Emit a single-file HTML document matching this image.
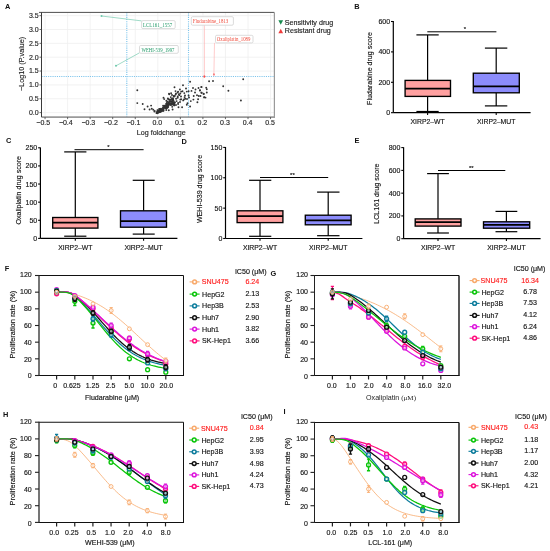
<!DOCTYPE html>
<html><head><meta charset="utf-8"><style>
html,body{margin:0;padding:0;background:#fff;}
svg{display:block;will-change:transform;}
text{font-family:"Liberation Sans", sans-serif;}
</style></head><body>
<svg width="550" height="551" viewBox="0 0 550 551">
<rect width="550" height="551" fill="#fff"/>
<line x1="45.05" y1="12.4" x2="45.05" y2="117.1" stroke="#efefef" stroke-width="0.8" />
<line x1="67.6" y1="12.4" x2="67.6" y2="117.1" stroke="#efefef" stroke-width="0.8" />
<line x1="90.15" y1="12.4" x2="90.15" y2="117.1" stroke="#efefef" stroke-width="0.8" />
<line x1="112.7" y1="12.4" x2="112.7" y2="117.1" stroke="#efefef" stroke-width="0.8" />
<line x1="135.25" y1="12.4" x2="135.25" y2="117.1" stroke="#efefef" stroke-width="0.8" />
<line x1="157.8" y1="12.4" x2="157.8" y2="117.1" stroke="#efefef" stroke-width="0.8" />
<line x1="180.35" y1="12.4" x2="180.35" y2="117.1" stroke="#efefef" stroke-width="0.8" />
<line x1="202.9" y1="12.4" x2="202.9" y2="117.1" stroke="#efefef" stroke-width="0.8" />
<line x1="225.45" y1="12.4" x2="225.45" y2="117.1" stroke="#efefef" stroke-width="0.8" />
<line x1="248" y1="12.4" x2="248" y2="117.1" stroke="#efefef" stroke-width="0.8" />
<line x1="270.55" y1="12.4" x2="270.55" y2="117.1" stroke="#efefef" stroke-width="0.8" />
<line x1="41.5" y1="112.6" x2="274.4" y2="112.6" stroke="#efefef" stroke-width="0.8" />
<line x1="41.5" y1="98.75" x2="274.4" y2="98.75" stroke="#efefef" stroke-width="0.8" />
<line x1="41.5" y1="84.9" x2="274.4" y2="84.9" stroke="#efefef" stroke-width="0.8" />
<line x1="41.5" y1="71.05" x2="274.4" y2="71.05" stroke="#efefef" stroke-width="0.8" />
<line x1="41.5" y1="57.2" x2="274.4" y2="57.2" stroke="#efefef" stroke-width="0.8" />
<line x1="41.5" y1="43.35" x2="274.4" y2="43.35" stroke="#efefef" stroke-width="0.8" />
<line x1="41.5" y1="29.5" x2="274.4" y2="29.5" stroke="#efefef" stroke-width="0.8" />
<line x1="41.5" y1="15.65" x2="274.4" y2="15.65" stroke="#efefef" stroke-width="0.8" />
<line x1="126.8" y1="12.4" x2="126.8" y2="117.1" stroke="#7cc4ec" stroke-width="1.1" stroke-dasharray="1.1,1.1"/>
<line x1="188.5" y1="12.4" x2="188.5" y2="117.1" stroke="#7cc4ec" stroke-width="1.1" stroke-dasharray="1.1,1.1"/>
<line x1="41.5" y1="76.5" x2="274.4" y2="76.5" stroke="#7cc4ec" stroke-width="1.1" stroke-dasharray="1.1,1.1"/>
<circle cx="137.3" cy="90.3" r="0.95" fill="#333"/>
<circle cx="137.3" cy="103.1" r="0.95" fill="#333"/>
<circle cx="142.7" cy="104" r="0.95" fill="#333"/>
<circle cx="144.5" cy="109.2" r="0.95" fill="#333"/>
<circle cx="147.6" cy="106.5" r="0.95" fill="#333"/>
<circle cx="151.1" cy="105.6" r="0.95" fill="#333"/>
<circle cx="149.6" cy="109.5" r="0.95" fill="#333"/>
<circle cx="151.8" cy="108.7" r="0.95" fill="#333"/>
<circle cx="153.3" cy="109.8" r="0.95" fill="#333"/>
<circle cx="154.7" cy="110.9" r="0.95" fill="#333"/>
<circle cx="154.4" cy="111.6" r="0.95" fill="#333"/>
<circle cx="163.5" cy="97.8" r="0.95" fill="#333"/>
<circle cx="164.2" cy="99.1" r="0.95" fill="#333"/>
<circle cx="168.2" cy="99.1" r="0.95" fill="#333"/>
<circle cx="169.3" cy="94.2" r="0.95" fill="#333"/>
<circle cx="190.1" cy="81.7" r="0.95" fill="#333"/>
<circle cx="183" cy="85.2" r="0.95" fill="#333"/>
<circle cx="174.5" cy="87.3" r="0.95" fill="#333"/>
<circle cx="179.9" cy="89.5" r="0.95" fill="#333"/>
<circle cx="175.5" cy="91.1" r="0.95" fill="#333"/>
<circle cx="178.1" cy="91.6" r="0.95" fill="#333"/>
<circle cx="180.3" cy="93.5" r="0.95" fill="#333"/>
<circle cx="182.5" cy="91.3" r="0.95" fill="#333"/>
<circle cx="184.3" cy="93.1" r="0.95" fill="#333"/>
<circle cx="186.8" cy="91.6" r="0.95" fill="#333"/>
<circle cx="188.6" cy="91.3" r="0.95" fill="#333"/>
<circle cx="188.6" cy="95.5" r="0.95" fill="#333"/>
<circle cx="193" cy="88" r="0.95" fill="#333"/>
<circle cx="195.5" cy="89.5" r="0.95" fill="#333"/>
<circle cx="198.5" cy="88" r="0.95" fill="#333"/>
<circle cx="201.4" cy="86.9" r="0.95" fill="#333"/>
<circle cx="199.9" cy="90.5" r="0.95" fill="#333"/>
<circle cx="191.5" cy="90.9" r="0.95" fill="#333"/>
<circle cx="193.7" cy="96" r="0.95" fill="#333"/>
<circle cx="197" cy="95.3" r="0.95" fill="#333"/>
<circle cx="198.8" cy="96" r="0.95" fill="#333"/>
<circle cx="198.1" cy="99.3" r="0.95" fill="#333"/>
<circle cx="201.4" cy="92.7" r="0.95" fill="#333"/>
<circle cx="203.5" cy="93.8" r="0.95" fill="#333"/>
<circle cx="204.3" cy="97.1" r="0.95" fill="#333"/>
<circle cx="197.4" cy="102.2" r="0.95" fill="#333"/>
<circle cx="193.4" cy="99.6" r="0.95" fill="#333"/>
<circle cx="190.8" cy="101.1" r="0.95" fill="#333"/>
<circle cx="187.5" cy="103.3" r="0.95" fill="#333"/>
<circle cx="186.8" cy="104.7" r="0.95" fill="#333"/>
<circle cx="190.1" cy="106.5" r="0.95" fill="#333"/>
<circle cx="182.1" cy="107.3" r="0.95" fill="#333"/>
<circle cx="184.6" cy="97.1" r="0.95" fill="#333"/>
<circle cx="183.2" cy="100.4" r="0.95" fill="#333"/>
<circle cx="180.3" cy="99.6" r="0.95" fill="#333"/>
<circle cx="177.7" cy="97.8" r="0.95" fill="#333"/>
<circle cx="174.8" cy="96" r="0.95" fill="#333"/>
<circle cx="169" cy="93.8" r="0.95" fill="#333"/>
<circle cx="170.8" cy="97.1" r="0.95" fill="#333"/>
<circle cx="167.9" cy="98.5" r="0.95" fill="#333"/>
<circle cx="176.6" cy="101.1" r="0.95" fill="#333"/>
<circle cx="178.1" cy="104" r="0.95" fill="#333"/>
<circle cx="178.5" cy="107.3" r="0.95" fill="#333"/>
<circle cx="209.1" cy="81.3" r="0.95" fill="#333"/>
<circle cx="213" cy="81" r="0.95" fill="#333"/>
<circle cx="223.2" cy="86.2" r="0.95" fill="#333"/>
<circle cx="228.4" cy="90.8" r="0.95" fill="#333"/>
<circle cx="243.2" cy="79.2" r="0.95" fill="#333"/>
<circle cx="240.9" cy="100.5" r="0.95" fill="#333"/>
<circle cx="201.4" cy="87.1" r="0.95" fill="#333"/>
<circle cx="206.2" cy="87.8" r="0.95" fill="#333"/>
<circle cx="206.8" cy="89.2" r="0.95" fill="#333"/>
<circle cx="200" cy="90.3" r="0.95" fill="#333"/>
<circle cx="201.6" cy="92.8" r="0.95" fill="#333"/>
<circle cx="203.8" cy="94" r="0.95" fill="#333"/>
<circle cx="206.8" cy="92.5" r="0.95" fill="#333"/>
<circle cx="200.5" cy="96" r="0.95" fill="#333"/>
<circle cx="204.1" cy="97.4" r="0.95" fill="#333"/>
<circle cx="205.5" cy="97.6" r="0.95" fill="#333"/>
<circle cx="186" cy="88.5" r="0.95" fill="#333"/>
<circle cx="172" cy="95" r="0.95" fill="#333"/>
<circle cx="181" cy="96.5" r="0.95" fill="#333"/>
<circle cx="185" cy="95.5" r="0.95" fill="#333"/>
<circle cx="176" cy="93.5" r="0.95" fill="#333"/>
<circle cx="172.5" cy="99.5" r="0.95" fill="#333"/>
<circle cx="174" cy="102.5" r="0.95" fill="#333"/>
<circle cx="176" cy="105" r="0.95" fill="#333"/>
<circle cx="180" cy="102" r="0.95" fill="#333"/>
<circle cx="171" cy="104" r="0.95" fill="#333"/>
<circle cx="187" cy="99" r="0.95" fill="#333"/>
<circle cx="189" cy="97.5" r="0.95" fill="#333"/>
<circle cx="195" cy="92.5" r="0.95" fill="#333"/>
<circle cx="163.51" cy="109.89" r="0.95" fill="#333"/>
<circle cx="156.71" cy="112.7" r="0.95" fill="#333"/>
<circle cx="157.22" cy="112.5" r="0.95" fill="#333"/>
<circle cx="164.42" cy="107.86" r="0.95" fill="#333"/>
<circle cx="163.56" cy="107.31" r="0.95" fill="#333"/>
<circle cx="157.47" cy="110.29" r="0.95" fill="#333"/>
<circle cx="166.25" cy="110.04" r="0.95" fill="#333"/>
<circle cx="157.65" cy="111.76" r="0.95" fill="#333"/>
<circle cx="159.68" cy="111.36" r="0.95" fill="#333"/>
<circle cx="173.74" cy="104.8" r="0.95" fill="#333"/>
<circle cx="168.05" cy="107.28" r="0.95" fill="#333"/>
<circle cx="158.28" cy="111.96" r="0.95" fill="#333"/>
<circle cx="168.38" cy="105.79" r="0.95" fill="#333"/>
<circle cx="166.27" cy="106.82" r="0.95" fill="#333"/>
<circle cx="169.76" cy="101.68" r="0.95" fill="#333"/>
<circle cx="164.25" cy="106.91" r="0.95" fill="#333"/>
<circle cx="172.59" cy="109.51" r="0.95" fill="#333"/>
<circle cx="157.28" cy="113.2" r="0.95" fill="#333"/>
<circle cx="158.65" cy="111.54" r="0.95" fill="#333"/>
<circle cx="166.98" cy="102.39" r="0.95" fill="#333"/>
<circle cx="174.29" cy="105.41" r="0.95" fill="#333"/>
<circle cx="165.43" cy="105.58" r="0.95" fill="#333"/>
<circle cx="172.41" cy="100.76" r="0.95" fill="#333"/>
<circle cx="170.48" cy="104.83" r="0.95" fill="#333"/>
<circle cx="169.75" cy="103.64" r="0.95" fill="#333"/>
<circle cx="160.67" cy="111.44" r="0.95" fill="#333"/>
<circle cx="156.5" cy="113.1" r="0.95" fill="#333"/>
<circle cx="160.2" cy="110.99" r="0.95" fill="#333"/>
<circle cx="159" cy="112.18" r="0.95" fill="#333"/>
<circle cx="174.35" cy="102.41" r="0.95" fill="#333"/>
<circle cx="166.18" cy="103.6" r="0.95" fill="#333"/>
<circle cx="173.82" cy="104.37" r="0.95" fill="#333"/>
<circle cx="163.11" cy="105.79" r="0.95" fill="#333"/>
<circle cx="159.52" cy="111.55" r="0.95" fill="#333"/>
<circle cx="159.03" cy="111.41" r="0.95" fill="#333"/>
<circle cx="161.82" cy="109.36" r="0.95" fill="#333"/>
<circle cx="159.7" cy="109.18" r="0.95" fill="#333"/>
<circle cx="167.35" cy="105.14" r="0.95" fill="#333"/>
<circle cx="171.47" cy="104.52" r="0.95" fill="#333"/>
<circle cx="170.17" cy="99.76" r="0.95" fill="#333"/>
<circle cx="162.96" cy="109.01" r="0.95" fill="#333"/>
<circle cx="168.27" cy="105.22" r="0.95" fill="#333"/>
<circle cx="160.73" cy="110.95" r="0.95" fill="#333"/>
<circle cx="157.99" cy="111.98" r="0.95" fill="#333"/>
<circle cx="158.05" cy="112.08" r="0.95" fill="#333"/>
<circle cx="171.65" cy="101.29" r="0.95" fill="#333"/>
<circle cx="160.51" cy="111.21" r="0.95" fill="#333"/>
<circle cx="159.2" cy="108.85" r="0.95" fill="#333"/>
<circle cx="164.11" cy="107.82" r="0.95" fill="#333"/>
<circle cx="157.97" cy="112.54" r="0.95" fill="#333"/>
<circle cx="172.09" cy="102.8" r="0.95" fill="#333"/>
<circle cx="173.55" cy="100.86" r="0.95" fill="#333"/>
<circle cx="167.37" cy="105.94" r="0.95" fill="#333"/>
<circle cx="173.82" cy="96.71" r="0.95" fill="#333"/>
<circle cx="160.62" cy="110.73" r="0.95" fill="#333"/>
<circle cx="168.37" cy="103.75" r="0.95" fill="#333"/>
<circle cx="163.52" cy="110.83" r="0.95" fill="#333"/>
<circle cx="173.54" cy="95.84" r="0.95" fill="#333"/>
<circle cx="170.4" cy="101.16" r="0.95" fill="#333"/>
<circle cx="165.52" cy="107.17" r="0.95" fill="#333"/>
<circle cx="157.2" cy="113.03" r="0.95" fill="#333"/>
<circle cx="169.59" cy="103.16" r="0.95" fill="#333"/>
<circle cx="176.11" cy="98.78" r="0.95" fill="#333"/>
<circle cx="163.26" cy="109.46" r="0.95" fill="#333"/>
<circle cx="160.73" cy="111.55" r="0.95" fill="#333"/>
<circle cx="172.27" cy="98.82" r="0.95" fill="#333"/>
<circle cx="167.78" cy="104.18" r="0.95" fill="#333"/>
<circle cx="168.61" cy="102.22" r="0.95" fill="#333"/>
<circle cx="169.6" cy="104.2" r="0.95" fill="#333"/>
<circle cx="172.21" cy="106.84" r="0.95" fill="#333"/>
<circle cx="174.96" cy="102.49" r="0.95" fill="#333"/>
<circle cx="173.07" cy="99.39" r="0.95" fill="#333"/>
<circle cx="160.51" cy="111.82" r="0.95" fill="#333"/>
<circle cx="174.51" cy="105.12" r="0.95" fill="#333"/>
<circle cx="173.04" cy="98.7" r="0.95" fill="#333"/>
<circle cx="166.32" cy="106.49" r="0.95" fill="#333"/>
<circle cx="172.28" cy="98.47" r="0.95" fill="#333"/>
<circle cx="173.42" cy="104.19" r="0.95" fill="#333"/>
<circle cx="172.92" cy="103.97" r="0.95" fill="#333"/>
<circle cx="162.24" cy="110.86" r="0.95" fill="#333"/>
<circle cx="160.42" cy="110.63" r="0.95" fill="#333"/>
<circle cx="174.15" cy="103.82" r="0.95" fill="#333"/>
<circle cx="166.96" cy="104.4" r="0.95" fill="#333"/>
<circle cx="172.32" cy="102.01" r="0.95" fill="#333"/>
<circle cx="166.77" cy="106.17" r="0.95" fill="#333"/>
<circle cx="161.21" cy="109.79" r="0.95" fill="#333"/>
<circle cx="157.81" cy="112.37" r="0.95" fill="#333"/>
<circle cx="166.8" cy="108.27" r="0.95" fill="#333"/>
<circle cx="165.83" cy="105.53" r="0.95" fill="#333"/>
<circle cx="167.15" cy="107.43" r="0.95" fill="#333"/>
<circle cx="169.19" cy="104.04" r="0.95" fill="#333"/>
<circle cx="170.43" cy="101.72" r="0.95" fill="#333"/>
<circle cx="166.1" cy="106.26" r="0.95" fill="#333"/>
<circle cx="168.22" cy="105.87" r="0.95" fill="#333"/>
<circle cx="165.63" cy="105.6" r="0.95" fill="#333"/>
<circle cx="172.98" cy="100.69" r="0.95" fill="#333"/>
<circle cx="167.36" cy="104" r="0.95" fill="#333"/>
<circle cx="159.78" cy="111.43" r="0.95" fill="#333"/>
<circle cx="157.87" cy="112.36" r="0.95" fill="#333"/>
<circle cx="166.37" cy="100.76" r="0.95" fill="#333"/>
<circle cx="158" cy="110.57" r="0.95" fill="#333"/>
<circle cx="159.91" cy="108.98" r="0.95" fill="#333"/>
<circle cx="160.83" cy="109.67" r="0.95" fill="#333"/>
<circle cx="166.64" cy="105.75" r="0.95" fill="#333"/>
<circle cx="158.23" cy="112.31" r="0.95" fill="#333"/>
<circle cx="163.01" cy="109.76" r="0.95" fill="#333"/>
<circle cx="170.97" cy="103.43" r="0.95" fill="#333"/>
<circle cx="164.97" cy="107.33" r="0.95" fill="#333"/>
<circle cx="167.16" cy="105.56" r="0.95" fill="#333"/>
<circle cx="171.1" cy="93.27" r="0.95" fill="#333"/>
<circle cx="158.27" cy="112.02" r="0.95" fill="#333"/>
<circle cx="171.34" cy="104.29" r="0.95" fill="#333"/>
<circle cx="164.4" cy="105.8" r="0.95" fill="#333"/>
<circle cx="163.09" cy="110.75" r="0.95" fill="#333"/>
<circle cx="165.94" cy="105.55" r="0.95" fill="#333"/>
<circle cx="156.77" cy="112.11" r="0.95" fill="#333"/>
<circle cx="158.81" cy="111" r="0.95" fill="#333"/>
<circle cx="174.24" cy="103.76" r="0.95" fill="#333"/>
<circle cx="158.03" cy="111.32" r="0.95" fill="#333"/>
<circle cx="159.47" cy="109.82" r="0.95" fill="#333"/>
<circle cx="162.24" cy="110.19" r="0.95" fill="#333"/>
<circle cx="161.02" cy="110.34" r="0.95" fill="#333"/>
<circle cx="157.92" cy="112.61" r="0.95" fill="#333"/>
<circle cx="161.02" cy="108.71" r="0.95" fill="#333"/>
<circle cx="166.33" cy="107.9" r="0.95" fill="#333"/>
<circle cx="157.04" cy="112.75" r="0.95" fill="#333"/>
<circle cx="168.87" cy="103.87" r="0.95" fill="#333"/>
<circle cx="164.91" cy="106.82" r="0.95" fill="#333"/>
<circle cx="171.16" cy="104.37" r="0.95" fill="#333"/>
<circle cx="172.01" cy="104.63" r="0.95" fill="#333"/>
<circle cx="169.6" cy="103.67" r="0.95" fill="#333"/>
<circle cx="169.37" cy="99.76" r="0.95" fill="#333"/>
<circle cx="163.37" cy="108.73" r="0.95" fill="#333"/>
<circle cx="160.33" cy="111" r="0.95" fill="#333"/>
<circle cx="161.08" cy="110.29" r="0.95" fill="#333"/>
<circle cx="171.35" cy="99.27" r="0.95" fill="#333"/>
<circle cx="161.68" cy="110.54" r="0.95" fill="#333"/>
<circle cx="165.76" cy="108.33" r="0.95" fill="#333"/>
<circle cx="162.97" cy="107.71" r="0.95" fill="#333"/>
<circle cx="168.79" cy="110.18" r="0.95" fill="#333"/>
<circle cx="161.6" cy="109.53" r="0.95" fill="#333"/>
<circle cx="161.9" cy="109.58" r="0.95" fill="#333"/>
<circle cx="159.62" cy="110.84" r="0.95" fill="#333"/>
<circle cx="161.97" cy="109.92" r="0.95" fill="#333"/>
<circle cx="158.15" cy="111.95" r="0.95" fill="#333"/>
<circle cx="158.87" cy="110.62" r="0.95" fill="#333"/>
<circle cx="167.45" cy="101.61" r="0.95" fill="#333"/>
<circle cx="172.97" cy="103.51" r="0.95" fill="#333"/>
<circle cx="178.16" cy="102.83" r="0.95" fill="#333"/>
<circle cx="170.35" cy="104.72" r="0.95" fill="#333"/>
<circle cx="181.22" cy="91.58" r="0.95" fill="#333"/>
<circle cx="185.21" cy="98.68" r="0.95" fill="#333"/>
<circle cx="178.85" cy="94.29" r="0.95" fill="#333"/>
<circle cx="177.7" cy="92.54" r="0.95" fill="#333"/>
<circle cx="179.27" cy="95.14" r="0.95" fill="#333"/>
<circle cx="167.59" cy="105.79" r="0.95" fill="#333"/>
<circle cx="169.28" cy="99.66" r="0.95" fill="#333"/>
<circle cx="175.63" cy="94.49" r="0.95" fill="#333"/>
<circle cx="181.13" cy="99.22" r="0.95" fill="#333"/>
<circle cx="177.75" cy="96.45" r="0.95" fill="#333"/>
<circle cx="183.99" cy="99.38" r="0.95" fill="#333"/>
<circle cx="172.65" cy="102.54" r="0.95" fill="#333"/>
<circle cx="204.4" cy="76.5" r="0.9" fill="#f25050"/>
<circle cx="213.9" cy="74.4" r="0.9" fill="#f58080"/>
<line x1="101.5" y1="16" x2="141.6" y2="20.9" stroke="#6cc8aa" stroke-width="0.65" />
<circle cx="101.5" cy="16" r="1" fill="#6cc8aa"/>
<rect x="141.6" y="20.6" width="33.6" height="8" rx="1.3" fill="#fff" stroke="#cfcfcf" stroke-width="0.75"/>
<text x="0" y="0" font-size="6.2" text-anchor="middle" fill="#229a68" textLength="37.44" lengthAdjust="spacingAndGlyphs" transform="translate(157.6 26.9) scale(0.78 1)" style="font-family:'Liberation Serif', serif">LCL161_1557</text>
<line x1="116" y1="65.8" x2="139.5" y2="52.8" stroke="#6cc8aa" stroke-width="0.65" />
<circle cx="116" cy="65.8" r="1" fill="#6cc8aa"/>
<rect x="139.5" y="45.5" width="38.8" height="7.8" rx="1.3" fill="#fff" stroke="#cfcfcf" stroke-width="0.75"/>
<text x="0" y="0" font-size="6.2" text-anchor="middle" fill="#229a68" textLength="42.31" lengthAdjust="spacingAndGlyphs" transform="translate(157.9 51.7) scale(0.78 1)" style="font-family:'Liberation Serif', serif">WEHI-539_1997</text>
<line x1="204.4" y1="76.5" x2="204.4" y2="25.2" stroke="#ffb0b0" stroke-width="0.65" />
<circle cx="204.4" cy="76.5" r="1" fill="#ffb0b0"/>
<rect x="191.3" y="16.7" width="42.1" height="8.5" rx="1.3" fill="#fff" stroke="#cfcfcf" stroke-width="0.75"/>
<text x="0" y="0" font-size="6.2" text-anchor="middle" fill="#f04a3a" textLength="45.51" lengthAdjust="spacingAndGlyphs" transform="translate(210.55 23.25) scale(0.78 1)" style="font-family:'Liberation Serif', serif">Fludarabine_1813</text>
<line x1="213.9" y1="74.4" x2="214.5" y2="42.9" stroke="#ffb0b0" stroke-width="0.65" />
<circle cx="213.9" cy="74.4" r="1" fill="#ffb0b0"/>
<rect x="215.5" y="35.3" width="37.5" height="7.6" rx="1.3" fill="#fff" stroke="#cfcfcf" stroke-width="0.75"/>
<text x="0" y="0" font-size="6.2" text-anchor="middle" fill="#f04a3a" textLength="43.08" lengthAdjust="spacingAndGlyphs" transform="translate(233.6 41.4) scale(0.78 1)" style="font-family:'Liberation Serif', serif">Oxaliplatin_1089</text>
<circle cx="204.4" cy="76.5" r="0.9" fill="#f25050"/>
<circle cx="213.9" cy="74.4" r="0.9" fill="#f58080"/>
<line x1="39" y1="12.4" x2="274.4" y2="12.4" stroke="#3a3a3a" stroke-width="0.9" />
<line x1="274.4" y1="12.4" x2="274.4" y2="117.1" stroke="#9a9a9a" stroke-width="1.2" />
<line x1="41.5" y1="117.1" x2="275" y2="117.1" stroke="#9a9a9a" stroke-width="1.7" />
<line x1="41.5" y1="12.4" x2="41.5" y2="117.1" stroke="#3a3a3a" stroke-width="1.0" />
<line x1="45.05" y1="117.1" x2="45.05" y2="119.1" stroke="#444" stroke-width="0.8" />
<text x="43.25" y="125.2" font-size="7.0" text-anchor="middle" fill="#262626" font-weight="normal" stroke="#262626" stroke-width="0.15" >&#8722;0.5</text>
<line x1="67.6" y1="117.1" x2="67.6" y2="119.1" stroke="#444" stroke-width="0.8" />
<text x="65.8" y="125.2" font-size="7.0" text-anchor="middle" fill="#262626" font-weight="normal" stroke="#262626" stroke-width="0.15" >&#8722;0.4</text>
<line x1="90.15" y1="117.1" x2="90.15" y2="119.1" stroke="#444" stroke-width="0.8" />
<text x="88.35" y="125.2" font-size="7.0" text-anchor="middle" fill="#262626" font-weight="normal" stroke="#262626" stroke-width="0.15" >&#8722;0.3</text>
<line x1="112.7" y1="117.1" x2="112.7" y2="119.1" stroke="#444" stroke-width="0.8" />
<text x="110.9" y="125.2" font-size="7.0" text-anchor="middle" fill="#262626" font-weight="normal" stroke="#262626" stroke-width="0.15" >&#8722;0.2</text>
<line x1="135.25" y1="117.1" x2="135.25" y2="119.1" stroke="#444" stroke-width="0.8" />
<text x="133.45" y="125.2" font-size="7.0" text-anchor="middle" fill="#262626" font-weight="normal" stroke="#262626" stroke-width="0.15" >&#8722;0.1</text>
<line x1="157.8" y1="117.1" x2="157.8" y2="119.1" stroke="#444" stroke-width="0.8" />
<text x="157.3" y="125.2" font-size="7.0" text-anchor="middle" fill="#262626" font-weight="normal" stroke="#262626" stroke-width="0.15" >0.0</text>
<line x1="180.35" y1="117.1" x2="180.35" y2="119.1" stroke="#444" stroke-width="0.8" />
<text x="179.85" y="125.2" font-size="7.0" text-anchor="middle" fill="#262626" font-weight="normal" stroke="#262626" stroke-width="0.15" >0.1</text>
<line x1="202.9" y1="117.1" x2="202.9" y2="119.1" stroke="#444" stroke-width="0.8" />
<text x="202.4" y="125.2" font-size="7.0" text-anchor="middle" fill="#262626" font-weight="normal" stroke="#262626" stroke-width="0.15" >0.2</text>
<line x1="225.45" y1="117.1" x2="225.45" y2="119.1" stroke="#444" stroke-width="0.8" />
<text x="224.95" y="125.2" font-size="7.0" text-anchor="middle" fill="#262626" font-weight="normal" stroke="#262626" stroke-width="0.15" >0.3</text>
<line x1="248" y1="117.1" x2="248" y2="119.1" stroke="#444" stroke-width="0.8" />
<text x="247.5" y="125.2" font-size="7.0" text-anchor="middle" fill="#262626" font-weight="normal" stroke="#262626" stroke-width="0.15" >0.4</text>
<line x1="270.55" y1="117.1" x2="270.55" y2="119.1" stroke="#444" stroke-width="0.8" />
<text x="270.05" y="125.2" font-size="7.0" text-anchor="middle" fill="#262626" font-weight="normal" stroke="#262626" stroke-width="0.15" >0.5</text>
<line x1="39.5" y1="112.6" x2="41.5" y2="112.6" stroke="#444" stroke-width="0.8" />
<text x="38.7" y="115" font-size="7.0" text-anchor="end" fill="#262626" font-weight="normal" stroke="#262626" stroke-width="0.15" >0.0</text>
<line x1="39.5" y1="98.75" x2="41.5" y2="98.75" stroke="#444" stroke-width="0.8" />
<text x="38.7" y="101.15" font-size="7.0" text-anchor="end" fill="#262626" font-weight="normal" stroke="#262626" stroke-width="0.15" >0.5</text>
<line x1="39.5" y1="84.9" x2="41.5" y2="84.9" stroke="#444" stroke-width="0.8" />
<text x="38.7" y="87.3" font-size="7.0" text-anchor="end" fill="#262626" font-weight="normal" stroke="#262626" stroke-width="0.15" >1.0</text>
<line x1="39.5" y1="71.05" x2="41.5" y2="71.05" stroke="#444" stroke-width="0.8" />
<text x="38.7" y="73.45" font-size="7.0" text-anchor="end" fill="#262626" font-weight="normal" stroke="#262626" stroke-width="0.15" >1.5</text>
<line x1="39.5" y1="57.2" x2="41.5" y2="57.2" stroke="#444" stroke-width="0.8" />
<text x="38.7" y="59.6" font-size="7.0" text-anchor="end" fill="#262626" font-weight="normal" stroke="#262626" stroke-width="0.15" >2.0</text>
<line x1="39.5" y1="43.35" x2="41.5" y2="43.35" stroke="#444" stroke-width="0.8" />
<text x="38.7" y="45.75" font-size="7.0" text-anchor="end" fill="#262626" font-weight="normal" stroke="#262626" stroke-width="0.15" >2.5</text>
<line x1="39.5" y1="29.5" x2="41.5" y2="29.5" stroke="#444" stroke-width="0.8" />
<text x="38.7" y="31.9" font-size="7.0" text-anchor="end" fill="#262626" font-weight="normal" stroke="#262626" stroke-width="0.15" >3.0</text>
<line x1="39.5" y1="15.65" x2="41.5" y2="15.65" stroke="#444" stroke-width="0.8" />
<text x="38.7" y="18.05" font-size="7.0" text-anchor="end" fill="#262626" font-weight="normal" stroke="#262626" stroke-width="0.15" >3.5</text>
<text x="161.2" y="135" font-size="7.15" text-anchor="middle" fill="#262626" font-weight="normal" stroke="#262626" stroke-width="0.15" >Log foldchange</text>
<text x="23.9" y="63.9" font-size="7.2" text-anchor="middle" fill="#262626" font-weight="normal" stroke="#262626" stroke-width="0.15" transform="rotate(-90 23.9 63.9)" >&#8722;Log10 (P.value)</text>
<polygon points="278.4,20.2 283.1,20.2 280.75,24.7" fill="#168a4e"/>
<polygon points="278.4,33.2 283.1,33.2 280.75,28.7" fill="#f03c3c"/>
<text x="284.8" y="25" font-size="7.15" text-anchor="start" fill="#1e1e1e" font-weight="normal" stroke="#1e1e1e" stroke-width="0.15" >Sensitivity drug</text>
<text x="284.8" y="33.3" font-size="7.15" text-anchor="start" fill="#1e1e1e" font-weight="normal" stroke="#1e1e1e" stroke-width="0.15" >Resistant drug</text>
<line x1="393.3" y1="21" x2="393.3" y2="112.7" stroke="#000" stroke-width="1.2" />
<line x1="393.3" y1="112.7" x2="530.6" y2="112.7" stroke="#000" stroke-width="1.2" />
<line x1="391" y1="112.7" x2="393.3" y2="112.7" stroke="#000" stroke-width="1.08" />
<text x="390.1" y="115.2" font-size="7.0" text-anchor="end" fill="#151515" font-weight="normal" stroke="#151515" stroke-width="0.15" >0</text>
<line x1="391" y1="82.3" x2="393.3" y2="82.3" stroke="#000" stroke-width="1.08" />
<text x="390.1" y="84.8" font-size="7.0" text-anchor="end" fill="#151515" font-weight="normal" stroke="#151515" stroke-width="0.15" >200</text>
<line x1="391" y1="51.9" x2="393.3" y2="51.9" stroke="#000" stroke-width="1.08" />
<text x="390.1" y="54.4" font-size="7.0" text-anchor="end" fill="#151515" font-weight="normal" stroke="#151515" stroke-width="0.15" >400</text>
<line x1="391" y1="21.5" x2="393.3" y2="21.5" stroke="#000" stroke-width="1.08" />
<text x="390.1" y="24" font-size="7.0" text-anchor="end" fill="#151515" font-weight="normal" stroke="#151515" stroke-width="0.15" >600</text>
<line x1="427.6" y1="112.7" x2="427.6" y2="115" stroke="#000" stroke-width="1.08" />
<line x1="427.6" y1="34.9" x2="427.6" y2="80.4" stroke="#000" stroke-width="1.2" />
<line x1="427.6" y1="96.4" x2="427.6" y2="111.5" stroke="#000" stroke-width="1.2" />
<line x1="416.4" y1="34.9" x2="438.7" y2="34.9" stroke="#000" stroke-width="1.2" />
<line x1="416.4" y1="111.5" x2="438.7" y2="111.5" stroke="#000" stroke-width="1.2" />
<rect x="405.1" y="80.4" width="45.4" height="16" fill="#ffa0a0" stroke="#000" stroke-width="1.35" />
<line x1="405.1" y1="88.7" x2="450.5" y2="88.7" stroke="#000" stroke-width="1.75" />
<text x="427.6" y="124.4" font-size="6.85" text-anchor="middle" fill="#151515" font-weight="normal" stroke="#151515" stroke-width="0.15" >XIRP2&#8211;WT</text>
<line x1="496.2" y1="112.7" x2="496.2" y2="115" stroke="#000" stroke-width="1.08" />
<line x1="496.2" y1="48.1" x2="496.2" y2="73.2" stroke="#000" stroke-width="1.2" />
<line x1="496.2" y1="92.8" x2="496.2" y2="105.9" stroke="#000" stroke-width="1.2" />
<line x1="484.9" y1="48.1" x2="507.3" y2="48.1" stroke="#000" stroke-width="1.2" />
<line x1="484.9" y1="105.9" x2="507.3" y2="105.9" stroke="#000" stroke-width="1.2" />
<rect x="473.3" y="73.2" width="46" height="19.6" fill="#8c8cfc" stroke="#000" stroke-width="1.35" />
<line x1="473.3" y1="86.3" x2="519.3" y2="86.3" stroke="#000" stroke-width="1.75" />
<text x="496.2" y="124.4" font-size="6.85" text-anchor="middle" fill="#151515" font-weight="normal" stroke="#151515" stroke-width="0.15" >XIRP2&#8211;MUT</text>
<line x1="427.3" y1="31.8" x2="496.4" y2="31.8" stroke="#000" stroke-width="1.0" />
<text x="465" y="30.8" font-size="6.0" text-anchor="middle" fill="#151515" font-weight="normal" stroke="#151515" stroke-width="0.15" >*</text>
<text x="372.2" y="68.4" font-size="7.1" text-anchor="middle" fill="#151515" font-weight="normal" stroke="#151515" stroke-width="0.15" transform="rotate(-90 372.2 68.4)" >Fludarabine drug score</text>
<line x1="40.4" y1="147.4" x2="40.4" y2="238.4" stroke="#000" stroke-width="1.2" />
<line x1="40.4" y1="238.4" x2="177.4" y2="238.4" stroke="#000" stroke-width="1.2" />
<line x1="38.1" y1="238.4" x2="40.4" y2="238.4" stroke="#000" stroke-width="1.08" />
<text x="37.2" y="240.9" font-size="7.0" text-anchor="end" fill="#151515" font-weight="normal" stroke="#151515" stroke-width="0.15" >0</text>
<line x1="38.1" y1="220.28" x2="40.4" y2="220.28" stroke="#000" stroke-width="1.08" />
<text x="37.2" y="222.78" font-size="7.0" text-anchor="end" fill="#151515" font-weight="normal" stroke="#151515" stroke-width="0.15" >50</text>
<line x1="38.1" y1="202.16" x2="40.4" y2="202.16" stroke="#000" stroke-width="1.08" />
<text x="37.2" y="204.66" font-size="7.0" text-anchor="end" fill="#151515" font-weight="normal" stroke="#151515" stroke-width="0.15" >100</text>
<line x1="38.1" y1="184.04" x2="40.4" y2="184.04" stroke="#000" stroke-width="1.08" />
<text x="37.2" y="186.54" font-size="7.0" text-anchor="end" fill="#151515" font-weight="normal" stroke="#151515" stroke-width="0.15" >150</text>
<line x1="38.1" y1="165.92" x2="40.4" y2="165.92" stroke="#000" stroke-width="1.08" />
<text x="37.2" y="168.42" font-size="7.0" text-anchor="end" fill="#151515" font-weight="normal" stroke="#151515" stroke-width="0.15" >200</text>
<line x1="38.1" y1="147.8" x2="40.4" y2="147.8" stroke="#000" stroke-width="1.08" />
<text x="37.2" y="150.3" font-size="7.0" text-anchor="end" fill="#151515" font-weight="normal" stroke="#151515" stroke-width="0.15" >250</text>
<line x1="75.3" y1="238.4" x2="75.3" y2="240.7" stroke="#000" stroke-width="1.08" />
<line x1="75.3" y1="151.9" x2="75.3" y2="217.5" stroke="#000" stroke-width="1.2" />
<line x1="75.3" y1="228.1" x2="75.3" y2="236.2" stroke="#000" stroke-width="1.2" />
<line x1="64.2" y1="151.9" x2="86.4" y2="151.9" stroke="#000" stroke-width="1.2" />
<line x1="64.2" y1="236.2" x2="86.4" y2="236.2" stroke="#000" stroke-width="1.2" />
<rect x="52.7" y="217.5" width="45.2" height="10.6" fill="#ffa0a0" stroke="#000" stroke-width="1.35" />
<line x1="52.7" y1="222.7" x2="97.9" y2="222.7" stroke="#000" stroke-width="1.75" />
<text x="75.3" y="250.1" font-size="6.85" text-anchor="middle" fill="#151515" font-weight="normal" stroke="#151515" stroke-width="0.15" >XIRP2&#8211;WT</text>
<line x1="143.6" y1="238.4" x2="143.6" y2="240.7" stroke="#000" stroke-width="1.08" />
<line x1="143.6" y1="180.3" x2="143.6" y2="210.8" stroke="#000" stroke-width="1.2" />
<line x1="143.6" y1="227.2" x2="143.6" y2="234.1" stroke="#000" stroke-width="1.2" />
<line x1="132.7" y1="180.3" x2="154.7" y2="180.3" stroke="#000" stroke-width="1.2" />
<line x1="132.7" y1="234.1" x2="154.7" y2="234.1" stroke="#000" stroke-width="1.2" />
<rect x="120.5" y="210.8" width="46" height="16.4" fill="#8c8cfc" stroke="#000" stroke-width="1.35" />
<line x1="120.5" y1="221" x2="166.5" y2="221" stroke="#000" stroke-width="1.75" />
<text x="143.6" y="250.1" font-size="6.85" text-anchor="middle" fill="#151515" font-weight="normal" stroke="#151515" stroke-width="0.15" >XIRP2&#8211;MUT</text>
<line x1="74.5" y1="149.7" x2="143.6" y2="149.7" stroke="#000" stroke-width="1.0" />
<text x="108.4" y="148.7" font-size="6.0" text-anchor="middle" fill="#151515" font-weight="normal" stroke="#151515" stroke-width="0.15" >*</text>
<text x="20.6" y="190.3" font-size="7.1" text-anchor="middle" fill="#151515" font-weight="normal" stroke="#151515" stroke-width="0.15" transform="rotate(-90 20.6 190.3)" >Oxaliplatin drug score</text>
<line x1="225.5" y1="147" x2="225.5" y2="238.5" stroke="#000" stroke-width="1.2" />
<line x1="225.5" y1="238.5" x2="362.4" y2="238.5" stroke="#000" stroke-width="1.2" />
<line x1="223.2" y1="238.5" x2="225.5" y2="238.5" stroke="#000" stroke-width="1.08" />
<text x="222.3" y="241" font-size="7.0" text-anchor="end" fill="#151515" font-weight="normal" stroke="#151515" stroke-width="0.15" >0</text>
<line x1="223.2" y1="208.13" x2="225.5" y2="208.13" stroke="#000" stroke-width="1.08" />
<text x="222.3" y="210.63" font-size="7.0" text-anchor="end" fill="#151515" font-weight="normal" stroke="#151515" stroke-width="0.15" >50</text>
<line x1="223.2" y1="177.77" x2="225.5" y2="177.77" stroke="#000" stroke-width="1.08" />
<text x="222.3" y="180.27" font-size="7.0" text-anchor="end" fill="#151515" font-weight="normal" stroke="#151515" stroke-width="0.15" >100</text>
<line x1="223.2" y1="147.4" x2="225.5" y2="147.4" stroke="#000" stroke-width="1.08" />
<text x="222.3" y="149.9" font-size="7.0" text-anchor="end" fill="#151515" font-weight="normal" stroke="#151515" stroke-width="0.15" >150</text>
<line x1="260" y1="238.5" x2="260" y2="240.8" stroke="#000" stroke-width="1.08" />
<line x1="260" y1="180.3" x2="260" y2="210.8" stroke="#000" stroke-width="1.2" />
<line x1="260" y1="222.6" x2="260" y2="236.3" stroke="#000" stroke-width="1.2" />
<line x1="249.1" y1="180.3" x2="271.3" y2="180.3" stroke="#000" stroke-width="1.2" />
<line x1="249.1" y1="236.3" x2="271.3" y2="236.3" stroke="#000" stroke-width="1.2" />
<rect x="237.1" y="210.8" width="45.8" height="11.8" fill="#ffa0a0" stroke="#000" stroke-width="1.35" />
<line x1="237.1" y1="216" x2="282.9" y2="216" stroke="#000" stroke-width="1.75" />
<text x="260" y="250.2" font-size="6.85" text-anchor="middle" fill="#151515" font-weight="normal" stroke="#151515" stroke-width="0.15" >XIRP2&#8211;WT</text>
<line x1="328.2" y1="238.5" x2="328.2" y2="240.8" stroke="#000" stroke-width="1.08" />
<line x1="328.2" y1="192.1" x2="328.2" y2="215.2" stroke="#000" stroke-width="1.2" />
<line x1="328.2" y1="224.8" x2="328.2" y2="235.7" stroke="#000" stroke-width="1.2" />
<line x1="317.1" y1="192.1" x2="339.5" y2="192.1" stroke="#000" stroke-width="1.2" />
<line x1="317.1" y1="235.7" x2="339.5" y2="235.7" stroke="#000" stroke-width="1.2" />
<rect x="305.3" y="215.2" width="45.8" height="9.6" fill="#8c8cfc" stroke="#000" stroke-width="1.35" />
<line x1="305.3" y1="220.4" x2="351.1" y2="220.4" stroke="#000" stroke-width="1.75" />
<text x="328.2" y="250.2" font-size="6.85" text-anchor="middle" fill="#151515" font-weight="normal" stroke="#151515" stroke-width="0.15" >XIRP2&#8211;MUT</text>
<line x1="260" y1="177.5" x2="328.2" y2="177.5" stroke="#000" stroke-width="1.0" />
<text x="292.4" y="176.5" font-size="6.0" text-anchor="middle" fill="#151515" font-weight="normal" stroke="#151515" stroke-width="0.15" >**</text>
<text x="201.5" y="189" font-size="7.1" text-anchor="middle" fill="#151515" font-weight="normal" stroke="#151515" stroke-width="0.15" transform="rotate(-90 201.5 189)" >WEHI-539 drug score</text>
<line x1="403.6" y1="147.2" x2="403.6" y2="238.7" stroke="#000" stroke-width="1.2" />
<line x1="403.6" y1="238.7" x2="540.6" y2="238.7" stroke="#000" stroke-width="1.2" />
<line x1="401.3" y1="238.7" x2="403.6" y2="238.7" stroke="#000" stroke-width="1.08" />
<text x="400.4" y="241.2" font-size="7.0" text-anchor="end" fill="#151515" font-weight="normal" stroke="#151515" stroke-width="0.15" >0</text>
<line x1="401.3" y1="215.92" x2="403.6" y2="215.92" stroke="#000" stroke-width="1.08" />
<text x="400.4" y="218.42" font-size="7.0" text-anchor="end" fill="#151515" font-weight="normal" stroke="#151515" stroke-width="0.15" >200</text>
<line x1="401.3" y1="193.15" x2="403.6" y2="193.15" stroke="#000" stroke-width="1.08" />
<text x="400.4" y="195.65" font-size="7.0" text-anchor="end" fill="#151515" font-weight="normal" stroke="#151515" stroke-width="0.15" >400</text>
<line x1="401.3" y1="170.38" x2="403.6" y2="170.38" stroke="#000" stroke-width="1.08" />
<text x="400.4" y="172.88" font-size="7.0" text-anchor="end" fill="#151515" font-weight="normal" stroke="#151515" stroke-width="0.15" >600</text>
<line x1="401.3" y1="147.6" x2="403.6" y2="147.6" stroke="#000" stroke-width="1.08" />
<text x="400.4" y="150.1" font-size="7.0" text-anchor="end" fill="#151515" font-weight="normal" stroke="#151515" stroke-width="0.15" >800</text>
<line x1="438" y1="238.7" x2="438" y2="241" stroke="#000" stroke-width="1.08" />
<line x1="438" y1="173.6" x2="438" y2="218.9" stroke="#000" stroke-width="1.2" />
<line x1="438" y1="226.1" x2="438" y2="233" stroke="#000" stroke-width="1.2" />
<line x1="427.1" y1="173.6" x2="448.9" y2="173.6" stroke="#000" stroke-width="1.2" />
<line x1="427.1" y1="233" x2="448.9" y2="233" stroke="#000" stroke-width="1.2" />
<rect x="415.2" y="218.9" width="45.8" height="7.2" fill="#ffa0a0" stroke="#000" stroke-width="1.35" />
<line x1="415.2" y1="222.1" x2="461" y2="222.1" stroke="#000" stroke-width="1.75" />
<text x="438" y="250.4" font-size="6.85" text-anchor="middle" fill="#151515" font-weight="normal" stroke="#151515" stroke-width="0.15" >XIRP2&#8211;WT</text>
<line x1="506.4" y1="238.7" x2="506.4" y2="241" stroke="#000" stroke-width="1.08" />
<line x1="506.4" y1="211.4" x2="506.4" y2="221.8" stroke="#000" stroke-width="1.2" />
<line x1="506.4" y1="228.2" x2="506.4" y2="231.7" stroke="#000" stroke-width="1.2" />
<line x1="495.5" y1="211.4" x2="517.3" y2="211.4" stroke="#000" stroke-width="1.2" />
<line x1="495.5" y1="231.7" x2="517.3" y2="231.7" stroke="#000" stroke-width="1.2" />
<rect x="483.5" y="221.8" width="46.2" height="6.4" fill="#8c8cfc" stroke="#000" stroke-width="1.35" />
<line x1="483.5" y1="224.9" x2="529.7" y2="224.9" stroke="#000" stroke-width="1.75" />
<text x="506.4" y="250.4" font-size="6.85" text-anchor="middle" fill="#151515" font-weight="normal" stroke="#151515" stroke-width="0.15" >XIRP2&#8211;MUT</text>
<line x1="438" y1="170.5" x2="505.3" y2="170.5" stroke="#000" stroke-width="1.0" />
<text x="471.3" y="169.5" font-size="6.0" text-anchor="middle" fill="#151515" font-weight="normal" stroke="#151515" stroke-width="0.15" >**</text>
<text x="379.5" y="193.6" font-size="7.1" text-anchor="middle" fill="#151515" font-weight="normal" stroke="#151515" stroke-width="0.15" transform="rotate(-90 379.5 193.6)" >LCL161 drug score</text>
<path d="M56.6,292.17 L58.42,292.18 L60.24,292.22 L62.06,292.29 L63.88,292.4 L65.7,292.57 L67.52,292.79 L69.34,293.07 L71.16,293.42 L72.98,293.84 L74.8,294.35 L76.62,294.92 L78.44,295.52 L80.26,296.15 L82.08,296.82 L83.9,297.52 L85.72,298.26 L87.54,299.03 L89.36,299.84 L91.18,300.7 L93,301.59 L94.82,302.52 L96.64,303.5 L98.46,304.52 L100.28,305.58 L102.1,306.68 L103.92,307.83 L105.74,309.02 L107.56,310.26 L109.38,311.53 L111.2,312.85 L113.02,314.21 L114.84,315.61 L116.66,317.05 L118.48,318.52 L120.3,320.03 L122.12,321.57 L123.94,323.14 L125.76,324.74 L127.58,326.37 L129.4,328.01 L131.22,329.67 L133.04,331.35 L134.86,333.04 L136.68,334.74 L138.5,336.44 L140.32,338.14 L142.14,339.84 L143.96,341.53 L145.78,343.21 L147.6,344.87 L149.42,346.52 L151.24,348.15 L153.06,349.75 L154.88,351.32 L156.7,352.87 L158.52,354.38 L160.34,355.86 L162.16,357.3 L163.98,358.71 L165.8,360.07" fill="none" stroke="#f8aa6c" stroke-width="0.8" stroke-linejoin="round"/>
<path d="M56.6,292.17 L58.42,292.13 L60.24,292.04 L62.06,291.96 L63.88,291.93 L65.7,292.01 L67.52,292.26 L69.34,292.72 L71.16,293.44 L72.98,294.47 L74.8,295.88 L76.62,297.52 L78.44,299.23 L80.26,301 L82.08,302.83 L83.9,304.71 L85.72,306.65 L87.54,308.63 L89.36,310.65 L91.18,312.7 L93,314.78 L94.82,316.88 L96.64,318.99 L98.46,321.1 L100.28,323.21 L102.1,325.31 L103.92,327.39 L105.74,329.44 L107.56,331.46 L109.38,333.44 L111.2,335.37 L113.02,337.25 L114.84,339.07 L116.66,340.84 L118.48,342.54 L120.3,344.17 L122.12,345.74 L123.94,347.24 L125.76,348.67 L127.58,350.02 L129.4,351.31 L131.22,352.53 L133.04,353.68 L134.86,354.77 L136.68,355.79 L138.5,356.75 L140.32,357.65 L142.14,358.5 L143.96,359.28 L145.78,360.02 L147.6,360.7 L149.42,361.34 L151.24,361.94 L153.06,362.49 L154.88,363 L156.7,363.47 L158.52,363.91 L160.34,364.32 L162.16,364.7 L163.98,365.05 L165.8,365.37" fill="none" stroke="#0c7c9c" stroke-width="1.25" stroke-linejoin="round"/>
<path d="M56.6,292.17 L58.42,292.13 L60.24,292.07 L62.06,292.01 L63.88,291.99 L65.7,292.08 L67.52,292.29 L69.34,292.68 L71.16,293.3 L72.98,294.17 L74.8,295.35 L76.62,296.74 L78.44,298.19 L80.26,299.72 L82.08,301.32 L83.9,302.98 L85.72,304.71 L87.54,306.5 L89.36,308.35 L91.18,310.25 L93,312.2 L94.82,314.18 L96.64,316.19 L98.46,318.23 L100.28,320.28 L102.1,322.34 L103.92,324.4 L105.74,326.45 L107.56,328.48 L109.38,330.48 L111.2,332.44 L113.02,334.37 L114.84,336.25 L116.66,338.07 L118.48,339.84 L120.3,341.54 L122.12,343.17 L123.94,344.74 L125.76,346.24 L127.58,347.66 L129.4,349.01 L131.22,350.29 L133.04,351.5 L134.86,352.64 L136.68,353.71 L138.5,354.71 L140.32,355.65 L142.14,356.52 L143.96,357.34 L145.78,358.1 L147.6,358.81 L149.42,359.46 L151.24,360.07 L153.06,360.63 L154.88,361.15 L156.7,361.63 L158.52,362.07 L160.34,362.48 L162.16,362.86 L163.98,363.21 L165.8,363.52" fill="none" stroke="#111111" stroke-width="1.25" stroke-linejoin="round"/>
<path d="M56.6,292.17 L58.42,292.13 L60.24,292.04 L62.06,291.95 L63.88,291.9 L65.7,291.94 L67.52,292.13 L69.34,292.49 L71.16,293.08 L72.98,293.96 L74.8,295.15 L76.62,296.54 L78.44,297.97 L80.26,299.45 L82.08,300.96 L83.9,302.5 L85.72,304.08 L87.54,305.69 L89.36,307.33 L91.18,308.99 L93,310.67 L94.82,312.38 L96.64,314.09 L98.46,315.82 L100.28,317.56 L102.1,319.29 L103.92,321.03 L105.74,322.76 L107.56,324.49 L109.38,326.2 L111.2,327.89 L113.02,329.57 L114.84,331.22 L116.66,332.85 L118.48,334.45 L120.3,336.01 L122.12,337.55 L123.94,339.04 L125.76,340.5 L127.58,341.92 L129.4,343.29 L131.22,344.62 L133.04,345.91 L134.86,347.16 L136.68,348.36 L138.5,349.51 L140.32,350.63 L142.14,351.69 L143.96,352.71 L145.78,353.69 L147.6,354.63 L149.42,355.52 L151.24,356.37 L153.06,357.18 L154.88,357.95 L156.7,358.69 L158.52,359.38 L160.34,360.04 L162.16,360.67 L163.98,361.27 L165.8,361.83" fill="none" stroke="#ff0c7c" stroke-width="1.25" stroke-linejoin="round"/>
<path d="M56.6,292.17 L58.42,292.13 L60.24,292.04 L62.06,291.96 L63.88,291.92 L65.7,291.97 L67.52,292.15 L69.34,292.51 L71.16,293.09 L72.98,293.94 L74.8,295.11 L76.62,296.47 L78.44,297.87 L80.26,299.3 L82.08,300.77 L83.9,302.28 L85.72,303.82 L87.54,305.39 L89.36,306.99 L91.18,308.61 L93,310.25 L94.82,311.92 L96.64,313.59 L98.46,315.28 L100.28,316.98 L102.1,318.68 L103.92,320.39 L105.74,322.09 L107.56,323.78 L109.38,325.47 L111.2,327.14 L113.02,328.8 L114.84,330.43 L116.66,332.05 L118.48,333.63 L120.3,335.19 L122.12,336.72 L123.94,338.21 L125.76,339.67 L127.58,341.1 L129.4,342.48 L131.22,343.82 L133.04,345.13 L134.86,346.39 L136.68,347.6 L138.5,348.78 L140.32,349.91 L142.14,351 L143.96,352.05 L145.78,353.06 L147.6,354.02 L149.42,354.94 L151.24,355.82 L153.06,356.66 L154.88,357.47 L156.7,358.23 L158.52,358.96 L160.34,359.65 L162.16,360.31 L163.98,360.94 L165.8,361.53" fill="none" stroke="#dc14dc" stroke-width="1.25" stroke-linejoin="round"/>
<path d="M56.6,292.17 L58.42,292.14 L60.24,292.09 L62.06,292.06 L63.88,292.09 L65.7,292.25 L67.52,292.57 L69.34,293.09 L71.16,293.88 L72.98,294.96 L74.8,296.4 L76.62,298.07 L78.44,299.81 L80.26,301.64 L82.08,303.53 L83.9,305.49 L85.72,307.52 L87.54,309.61 L89.36,311.74 L91.18,313.92 L93,316.14 L94.82,318.38 L96.64,320.64 L98.46,322.9 L100.28,325.17 L102.1,327.42 L103.92,329.65 L105.74,331.85 L107.56,334.01 L109.38,336.12 L111.2,338.18 L113.02,340.18 L114.84,342.12 L116.66,343.98 L118.48,345.77 L120.3,347.48 L122.12,349.11 L123.94,350.67 L125.76,352.14 L127.58,353.53 L129.4,354.84 L131.22,356.07 L133.04,357.23 L134.86,358.32 L136.68,359.33 L138.5,360.27 L140.32,361.15 L142.14,361.97 L143.96,362.73 L145.78,363.43 L147.6,364.08 L149.42,364.68 L151.24,365.24 L153.06,365.75 L154.88,366.22 L156.7,366.66 L158.52,367.06 L160.34,367.42 L162.16,367.76 L163.98,368.07 L165.8,368.35" fill="none" stroke="#08c408" stroke-width="1.25" stroke-linejoin="round"/>
<circle cx="56.6" cy="293.83" r="1.95" fill="#fff" fill-opacity="0.55" stroke="#ff0c7c" stroke-width="1.35"/>
<circle cx="74.8" cy="297.17" r="1.95" fill="#fff" fill-opacity="0.55" stroke="#ff0c7c" stroke-width="1.35"/>
<circle cx="93" cy="308.83" r="1.95" fill="#fff" fill-opacity="0.55" stroke="#ff0c7c" stroke-width="1.35"/>
<circle cx="111.2" cy="328" r="1.95" fill="#fff" fill-opacity="0.55" stroke="#ff0c7c" stroke-width="1.35"/>
<path d="M129.4,336.37 V341.29 M127.8,336.37 H131 M127.8,341.29 H131" stroke="#ff0c7c" stroke-width="1.35" fill="none"/>
<circle cx="129.4" cy="338.83" r="1.95" fill="#fff" fill-opacity="0.55" stroke="#ff0c7c" stroke-width="1.35"/>
<circle cx="147.6" cy="354.67" r="1.95" fill="#fff" fill-opacity="0.55" stroke="#ff0c7c" stroke-width="1.35"/>
<circle cx="165.8" cy="363.83" r="1.95" fill="#fff" fill-opacity="0.55" stroke="#ff0c7c" stroke-width="1.35"/>
<circle cx="56.6" cy="289.67" r="1.95" fill="#fff" fill-opacity="0.55" stroke="#dc14dc" stroke-width="1.35"/>
<circle cx="74.8" cy="295.5" r="1.95" fill="#fff" fill-opacity="0.55" stroke="#dc14dc" stroke-width="1.35"/>
<circle cx="93" cy="307.17" r="1.95" fill="#fff" fill-opacity="0.55" stroke="#dc14dc" stroke-width="1.35"/>
<path d="M111.2,323.06 V327.94 M109.6,323.06 H112.8 M109.6,327.94 H112.8" stroke="#dc14dc" stroke-width="1.35" fill="none"/>
<circle cx="111.2" cy="325.5" r="1.95" fill="#fff" fill-opacity="0.55" stroke="#dc14dc" stroke-width="1.35"/>
<circle cx="129.4" cy="338" r="1.95" fill="#fff" fill-opacity="0.55" stroke="#dc14dc" stroke-width="1.35"/>
<path d="M147.6,351.36 V356.31 M146,351.36 H149.2 M146,356.31 H149.2" stroke="#dc14dc" stroke-width="1.35" fill="none"/>
<circle cx="147.6" cy="353.83" r="1.95" fill="#fff" fill-opacity="0.55" stroke="#dc14dc" stroke-width="1.35"/>
<circle cx="165.8" cy="361.33" r="1.95" fill="#fff" fill-opacity="0.55" stroke="#dc14dc" stroke-width="1.35"/>
<circle cx="56.6" cy="290.5" r="1.95" fill="#fff" fill-opacity="0.55" stroke="#08c408" stroke-width="1.35"/>
<path d="M74.8,297.17 V305.5 M73.2,297.17 H76.4 M73.2,305.5 H76.4" stroke="#08c408" stroke-width="1.35" fill="none"/>
<circle cx="74.8" cy="301.33" r="1.95" fill="#fff" fill-opacity="0.55" stroke="#08c408" stroke-width="1.35"/>
<path d="M93,318 V328 M91.4,318 H94.6 M91.4,328 H94.6" stroke="#08c408" stroke-width="1.35" fill="none"/>
<circle cx="93" cy="323" r="1.95" fill="#fff" fill-opacity="0.55" stroke="#08c408" stroke-width="1.35"/>
<circle cx="111.2" cy="332.17" r="1.95" fill="#fff" fill-opacity="0.55" stroke="#08c408" stroke-width="1.35"/>
<circle cx="129.4" cy="358.83" r="1.95" fill="#fff" fill-opacity="0.55" stroke="#08c408" stroke-width="1.35"/>
<circle cx="147.6" cy="369.67" r="1.95" fill="#fff" fill-opacity="0.55" stroke="#08c408" stroke-width="1.35"/>
<circle cx="165.8" cy="372.17" r="1.95" fill="#fff" fill-opacity="0.55" stroke="#08c408" stroke-width="1.35"/>
<path d="M56.6,288.84 V293.83 M55,288.84 H58.2 M55,293.83 H58.2" stroke="#0c7c9c" stroke-width="1.35" fill="none"/>
<circle cx="56.6" cy="291.33" r="1.95" fill="#fff" fill-opacity="0.55" stroke="#0c7c9c" stroke-width="1.35"/>
<circle cx="74.8" cy="298" r="1.95" fill="#fff" fill-opacity="0.55" stroke="#0c7c9c" stroke-width="1.35"/>
<path d="M93,316.72 V320.95 M91.4,316.72 H94.6 M91.4,320.95 H94.6" stroke="#0c7c9c" stroke-width="1.35" fill="none"/>
<circle cx="93" cy="318.83" r="1.95" fill="#fff" fill-opacity="0.55" stroke="#0c7c9c" stroke-width="1.35"/>
<path d="M111.2,332.02 V337.32 M109.6,332.02 H112.8 M109.6,337.32 H112.8" stroke="#0c7c9c" stroke-width="1.35" fill="none"/>
<circle cx="111.2" cy="334.67" r="1.95" fill="#fff" fill-opacity="0.55" stroke="#0c7c9c" stroke-width="1.35"/>
<circle cx="129.4" cy="348.83" r="1.95" fill="#fff" fill-opacity="0.55" stroke="#0c7c9c" stroke-width="1.35"/>
<circle cx="147.6" cy="363" r="1.95" fill="#fff" fill-opacity="0.55" stroke="#0c7c9c" stroke-width="1.35"/>
<circle cx="165.8" cy="368.83" r="1.95" fill="#fff" fill-opacity="0.55" stroke="#0c7c9c" stroke-width="1.35"/>
<circle cx="56.6" cy="291.33" r="1.95" fill="#fff" fill-opacity="0.55" stroke="#111111" stroke-width="1.35"/>
<path d="M74.8,296.29 V301.38 M73.2,296.29 H76.4 M73.2,301.38 H76.4" stroke="#111111" stroke-width="1.35" fill="none"/>
<circle cx="74.8" cy="298.83" r="1.95" fill="#fff" fill-opacity="0.55" stroke="#111111" stroke-width="1.35"/>
<path d="M93,310.78 V315.22 M91.4,310.78 H94.6 M91.4,315.22 H94.6" stroke="#111111" stroke-width="1.35" fill="none"/>
<circle cx="93" cy="313" r="1.95" fill="#fff" fill-opacity="0.55" stroke="#111111" stroke-width="1.35"/>
<path d="M111.2,329.09 V333.57 M109.6,329.09 H112.8 M109.6,333.57 H112.8" stroke="#111111" stroke-width="1.35" fill="none"/>
<circle cx="111.2" cy="331.33" r="1.95" fill="#fff" fill-opacity="0.55" stroke="#111111" stroke-width="1.35"/>
<path d="M129.4,344.52 V349.82 M127.8,344.52 H131 M127.8,349.82 H131" stroke="#111111" stroke-width="1.35" fill="none"/>
<circle cx="129.4" cy="347.17" r="1.95" fill="#fff" fill-opacity="0.55" stroke="#111111" stroke-width="1.35"/>
<path d="M147.6,357.3 V362.03 M146,357.3 H149.2 M146,362.03 H149.2" stroke="#111111" stroke-width="1.35" fill="none"/>
<circle cx="147.6" cy="359.67" r="1.95" fill="#fff" fill-opacity="0.55" stroke="#111111" stroke-width="1.35"/>
<path d="M165.8,364.74 V369.6 M164.2,364.74 H167.4 M164.2,369.6 H167.4" stroke="#111111" stroke-width="1.35" fill="none"/>
<circle cx="165.8" cy="367.17" r="1.95" fill="#fff" fill-opacity="0.55" stroke="#111111" stroke-width="1.35"/>
<circle cx="56.6" cy="292.17" r="1.95" fill="#fff" fill-opacity="0.55" stroke="#f8aa6c" stroke-width="0.9"/>
<circle cx="74.8" cy="296.33" r="1.95" fill="#fff" fill-opacity="0.55" stroke="#f8aa6c" stroke-width="0.9"/>
<circle cx="93" cy="303.83" r="1.95" fill="#fff" fill-opacity="0.55" stroke="#f8aa6c" stroke-width="0.9"/>
<path d="M111.2,307.58 V313.42 M109.6,307.58 H112.8 M109.6,313.42 H112.8" stroke="#f8aa6c" stroke-width="0.9" fill="none"/>
<circle cx="111.2" cy="310.5" r="1.95" fill="#fff" fill-opacity="0.55" stroke="#f8aa6c" stroke-width="0.9"/>
<circle cx="129.4" cy="328.83" r="1.95" fill="#fff" fill-opacity="0.55" stroke="#f8aa6c" stroke-width="0.9"/>
<circle cx="147.6" cy="344.67" r="1.95" fill="#fff" fill-opacity="0.55" stroke="#f8aa6c" stroke-width="0.9"/>
<path d="M165.8,358 V363 M164.2,358 H167.4 M164.2,363 H167.4" stroke="#f8aa6c" stroke-width="0.9" fill="none"/>
<circle cx="165.8" cy="360.5" r="1.95" fill="#fff" fill-opacity="0.55" stroke="#f8aa6c" stroke-width="0.9"/>
<line x1="39" y1="275.5" x2="183.5" y2="275.5" stroke="#111" stroke-width="1.05" />
<line x1="183.5" y1="275.5" x2="183.5" y2="375.5" stroke="#111" stroke-width="1.05" />
<line x1="39" y1="375.5" x2="184.03" y2="375.5" stroke="#111" stroke-width="1.05" />
<line x1="39" y1="275" x2="39" y2="376" stroke="#222" stroke-width="1.25" />
<line x1="35" y1="375.5" x2="39" y2="375.5" stroke="#222" stroke-width="1.1" />
<text x="31.7" y="378.45" font-size="7.0" text-anchor="end" fill="#151515" font-weight="normal" stroke="#151515" stroke-width="0.15" >0</text>
<line x1="35" y1="358.83" x2="39" y2="358.83" stroke="#222" stroke-width="1.1" />
<text x="31.7" y="361.53" font-size="7.0" text-anchor="end" fill="#151515" font-weight="normal" stroke="#151515" stroke-width="0.15" >20</text>
<line x1="35" y1="342.17" x2="39" y2="342.17" stroke="#222" stroke-width="1.1" />
<text x="31.7" y="344.62" font-size="7.0" text-anchor="end" fill="#151515" font-weight="normal" stroke="#151515" stroke-width="0.15" >40</text>
<line x1="35" y1="325.5" x2="39" y2="325.5" stroke="#222" stroke-width="1.1" />
<text x="31.7" y="327.7" font-size="7.0" text-anchor="end" fill="#151515" font-weight="normal" stroke="#151515" stroke-width="0.15" >60</text>
<line x1="35" y1="308.83" x2="39" y2="308.83" stroke="#222" stroke-width="1.1" />
<text x="31.7" y="310.78" font-size="7.0" text-anchor="end" fill="#151515" font-weight="normal" stroke="#151515" stroke-width="0.15" >80</text>
<line x1="35" y1="292.17" x2="39" y2="292.17" stroke="#222" stroke-width="1.1" />
<text x="31.7" y="293.87" font-size="7.0" text-anchor="end" fill="#151515" font-weight="normal" stroke="#151515" stroke-width="0.15" >100</text>
<line x1="35" y1="275.5" x2="39" y2="275.5" stroke="#222" stroke-width="1.1" />
<text x="31.7" y="276.95" font-size="7.0" text-anchor="end" fill="#151515" font-weight="normal" stroke="#151515" stroke-width="0.15" >120</text>
<line x1="56.6" y1="375.5" x2="56.6" y2="379.5" stroke="#222" stroke-width="1.2" />
<text x="55.3" y="388.4" font-size="7.0" text-anchor="middle" fill="#151515" font-weight="normal" stroke="#151515" stroke-width="0.15" >0</text>
<line x1="74.8" y1="375.5" x2="74.8" y2="379.5" stroke="#222" stroke-width="1.2" />
<text x="71.9" y="388.4" font-size="7.0" text-anchor="middle" fill="#151515" font-weight="normal" stroke="#151515" stroke-width="0.15" >0.625</text>
<line x1="93" y1="375.5" x2="93" y2="379.5" stroke="#222" stroke-width="1.2" />
<text x="92.5" y="388.4" font-size="7.0" text-anchor="middle" fill="#151515" font-weight="normal" stroke="#151515" stroke-width="0.15" >1.25</text>
<line x1="111.2" y1="375.5" x2="111.2" y2="379.5" stroke="#222" stroke-width="1.2" />
<text x="110.6" y="388.4" font-size="7.0" text-anchor="middle" fill="#151515" font-weight="normal" stroke="#151515" stroke-width="0.15" >2.5</text>
<line x1="129.4" y1="375.5" x2="129.4" y2="379.5" stroke="#222" stroke-width="1.2" />
<text x="129.3" y="388.4" font-size="7.0" text-anchor="middle" fill="#151515" font-weight="normal" stroke="#151515" stroke-width="0.15" >5.0</text>
<line x1="147.6" y1="375.5" x2="147.6" y2="379.5" stroke="#222" stroke-width="1.2" />
<text x="147.5" y="388.4" font-size="7.0" text-anchor="middle" fill="#151515" font-weight="normal" stroke="#151515" stroke-width="0.15" >10.0</text>
<line x1="165.8" y1="375.5" x2="165.8" y2="379.5" stroke="#222" stroke-width="1.2" />
<text x="166.3" y="388.4" font-size="7.0" text-anchor="middle" fill="#151515" font-weight="normal" stroke="#151515" stroke-width="0.15" >20.0</text>
<text x="14.8" y="324.7" font-size="7.4" text-anchor="middle" fill="#151515" font-weight="normal" stroke="#151515" stroke-width="0.15" transform="rotate(-90 14.8 324.7)" >Proliferation rate (%)</text>
<text x="85" y="399.6" font-size="7.1" text-anchor="start" fill="#151515" font-weight="normal" stroke="#151515" stroke-width="0.15" >Fludarabine (&#956;M)</text>
<text x="234.9" y="274" font-size="7.1" text-anchor="start" fill="#151515" font-weight="normal" stroke="#151515" stroke-width="0.15" >IC50 (&#956;M)</text>
<line x1="189.6" y1="281.9" x2="199.6" y2="281.9" stroke="#f8aa6c" stroke-width="1.1" />
<circle cx="194.6" cy="281.9" r="1.9" fill="#fff" stroke="#f8aa6c" stroke-width="1.5"/>
<text x="201.8" y="284.4" font-size="7.1" text-anchor="start" fill="#ff2020" font-weight="normal" stroke="#ff2020" stroke-width="0.15" >SNU475</text>
<text x="252.3" y="283.8" font-size="7.1" text-anchor="middle" fill="#ff2020" font-weight="normal" stroke="#ff2020" stroke-width="0.15" >6.24</text>
<line x1="189.6" y1="294.1" x2="199.6" y2="294.1" stroke="#08c408" stroke-width="1.1" />
<circle cx="194.6" cy="294.1" r="1.9" fill="#fff" stroke="#08c408" stroke-width="1.5"/>
<text x="202.1" y="296.6" font-size="7.1" text-anchor="start" fill="#151515" font-weight="normal" stroke="#151515" stroke-width="0.15" >HepG2</text>
<text x="252.3" y="296" font-size="7.1" text-anchor="middle" fill="#151515" font-weight="normal" stroke="#151515" stroke-width="0.15" >2.13</text>
<line x1="189.6" y1="305.9" x2="199.6" y2="305.9" stroke="#0c7c9c" stroke-width="1.1" />
<circle cx="194.6" cy="305.9" r="1.9" fill="#fff" stroke="#0c7c9c" stroke-width="1.5"/>
<text x="202.1" y="308.4" font-size="7.1" text-anchor="start" fill="#151515" font-weight="normal" stroke="#151515" stroke-width="0.15" >Hep3B</text>
<text x="252.3" y="307.8" font-size="7.1" text-anchor="middle" fill="#151515" font-weight="normal" stroke="#151515" stroke-width="0.15" >2.53</text>
<line x1="189.6" y1="317.7" x2="199.6" y2="317.7" stroke="#111111" stroke-width="1.1" />
<circle cx="194.6" cy="317.7" r="1.9" fill="#fff" stroke="#111111" stroke-width="1.5"/>
<text x="202.1" y="320.2" font-size="7.1" text-anchor="start" fill="#151515" font-weight="normal" stroke="#151515" stroke-width="0.15" >Huh7</text>
<text x="252.3" y="319.6" font-size="7.1" text-anchor="middle" fill="#151515" font-weight="normal" stroke="#151515" stroke-width="0.15" >2.90</text>
<line x1="189.6" y1="329.1" x2="199.6" y2="329.1" stroke="#dc14dc" stroke-width="1.1" />
<circle cx="194.6" cy="329.1" r="1.9" fill="#fff" stroke="#dc14dc" stroke-width="1.5"/>
<text x="202.1" y="331.6" font-size="7.1" text-anchor="start" fill="#151515" font-weight="normal" stroke="#151515" stroke-width="0.15" >Huh1</text>
<text x="252.3" y="331" font-size="7.1" text-anchor="middle" fill="#151515" font-weight="normal" stroke="#151515" stroke-width="0.15" >3.82</text>
<line x1="189.6" y1="340.9" x2="199.6" y2="340.9" stroke="#ff0c7c" stroke-width="1.1" />
<circle cx="194.6" cy="340.9" r="1.9" fill="#fff" stroke="#ff0c7c" stroke-width="1.5"/>
<text x="202.1" y="343.4" font-size="7.1" text-anchor="start" fill="#151515" font-weight="normal" stroke="#151515" stroke-width="0.15" >SK-Hep1</text>
<text x="252.3" y="342.8" font-size="7.1" text-anchor="middle" fill="#151515" font-weight="normal" stroke="#151515" stroke-width="0.15" >3.66</text>
<path d="M332.4,292.17 L334.21,292.21 L336.01,292.33 L337.82,292.53 L339.63,292.79 L341.44,293.11 L343.24,293.48 L345.05,293.89 L346.86,294.33 L348.66,294.79 L350.47,295.27 L352.28,295.77 L354.08,296.28 L355.89,296.81 L357.7,297.37 L359.5,297.95 L361.31,298.54 L363.12,299.16 L364.93,299.81 L366.73,300.48 L368.54,301.17 L370.35,301.88 L372.15,302.63 L373.96,303.39 L375.77,304.18 L377.57,305 L379.38,305.85 L381.19,306.72 L383,307.61 L384.8,308.54 L386.61,309.49 L388.42,310.46 L390.22,311.47 L392.03,312.5 L393.84,313.56 L395.64,314.64 L397.45,315.75 L399.26,316.88 L401.07,318.04 L402.87,319.22 L404.68,320.43 L406.49,321.65 L408.29,322.9 L410.1,324.17 L411.91,325.47 L413.71,326.77 L415.52,328.1 L417.33,329.44 L419.14,330.8 L420.94,332.17 L422.75,333.55 L424.56,334.94 L426.36,336.35 L428.17,337.75 L429.98,339.17 L431.78,340.59 L433.59,342.01 L435.4,343.43 L437.21,344.85 L439.01,346.26 L440.82,347.68" fill="none" stroke="#f8aa6c" stroke-width="0.8" stroke-linejoin="round"/>
<path d="M332.4,292.17 L334.21,292.16 L336.01,292.14 L337.82,292.15 L339.63,292.18 L341.44,292.26 L343.24,292.41 L345.05,292.66 L346.86,293 L348.66,293.47 L350.47,294.09 L352.28,294.81 L354.08,295.57 L355.89,296.39 L357.7,297.26 L359.5,298.18 L361.31,299.16 L363.12,300.2 L364.93,301.29 L366.73,302.44 L368.54,303.65 L370.35,304.92 L372.15,306.25 L373.96,307.64 L375.77,309.07 L377.57,310.57 L379.38,312.11 L381.19,313.7 L383,315.33 L384.8,317 L386.61,318.7 L388.42,320.42 L390.22,322.17 L392.03,323.94 L393.84,325.71 L395.64,327.49 L397.45,329.26 L399.26,331.02 L401.07,332.76 L402.87,334.48 L404.68,336.17 L406.49,337.83 L408.29,339.45 L410.1,341.02 L411.91,342.55 L413.71,344.02 L415.52,345.44 L417.33,346.81 L419.14,348.12 L420.94,349.37 L422.75,350.56 L424.56,351.69 L426.36,352.77 L428.17,353.79 L429.98,354.75 L431.78,355.65 L433.59,356.5 L435.4,357.3 L437.21,358.05 L439.01,358.75 L440.82,359.41" fill="none" stroke="#0c7c9c" stroke-width="1.25" stroke-linejoin="round"/>
<path d="M332.4,292.17 L334.21,292.15 L336.01,292.12 L337.82,292.11 L339.63,292.15 L341.44,292.27 L343.24,292.5 L345.05,292.87 L346.86,293.41 L348.66,294.16 L350.47,295.15 L352.28,296.29 L354.08,297.46 L355.89,298.69 L357.7,299.95 L359.5,301.26 L361.31,302.61 L363.12,304 L364.93,305.42 L366.73,306.88 L368.54,308.38 L370.35,309.91 L372.15,311.47 L373.96,313.05 L375.77,314.66 L377.57,316.28 L379.38,317.93 L381.19,319.59 L383,321.25 L384.8,322.93 L386.61,324.6 L388.42,326.27 L390.22,327.94 L392.03,329.6 L393.84,331.25 L395.64,332.87 L397.45,334.48 L399.26,336.07 L401.07,337.63 L402.87,339.16 L404.68,340.65 L406.49,342.12 L408.29,343.54 L410.1,344.93 L411.91,346.28 L413.71,347.59 L415.52,348.86 L417.33,350.08 L419.14,351.26 L420.94,352.4 L422.75,353.5 L424.56,354.55 L426.36,355.55 L428.17,356.52 L429.98,357.44 L431.78,358.32 L433.59,359.16 L435.4,359.96 L437.21,360.72 L439.01,361.45 L440.82,362.14" fill="none" stroke="#111111" stroke-width="1.25" stroke-linejoin="round"/>
<path d="M332.4,292.17 L334.21,292.34 L336.01,292.82 L337.82,293.56 L339.63,294.52 L341.44,295.63 L343.24,296.86 L345.05,298.15 L346.86,299.45 L348.66,300.71 L350.47,301.89 L352.28,303.02 L354.08,304.18 L355.89,305.38 L357.7,306.6 L359.5,307.85 L361.31,309.13 L363.12,310.44 L364.93,311.77 L366.73,313.13 L368.54,314.51 L370.35,315.9 L372.15,317.32 L373.96,318.76 L375.77,320.21 L377.57,321.67 L379.38,323.14 L381.19,324.62 L383,326.1 L384.8,327.59 L386.61,329.08 L388.42,330.57 L390.22,332.06 L392.03,333.53 L393.84,335 L395.64,336.46 L397.45,337.91 L399.26,339.34 L401.07,340.75 L402.87,342.14 L404.68,343.51 L406.49,344.86 L408.29,346.19 L410.1,347.49 L411.91,348.76 L413.71,350 L415.52,351.22 L417.33,352.4 L419.14,353.56 L420.94,354.68 L422.75,355.77 L424.56,356.83 L426.36,357.86 L428.17,358.85 L429.98,359.81 L431.78,360.74 L433.59,361.64 L435.4,362.5 L437.21,363.33 L439.01,364.13 L440.82,364.9" fill="none" stroke="#ff0c7c" stroke-width="1.25" stroke-linejoin="round"/>
<path d="M332.4,292.17 L334.21,292.18 L336.01,292.24 L337.82,292.37 L339.63,292.6 L341.44,292.95 L343.24,293.44 L345.05,294.1 L346.86,294.96 L348.66,296.05 L350.47,297.37 L352.28,298.86 L354.08,300.39 L355.89,301.97 L357.7,303.6 L359.5,305.28 L361.31,306.99 L363.12,308.74 L364.93,310.53 L366.73,312.34 L368.54,314.18 L370.35,316.04 L372.15,317.92 L373.96,319.81 L375.77,321.7 L377.57,323.6 L379.38,325.48 L381.19,327.36 L383,329.23 L384.8,331.07 L386.61,332.89 L388.42,334.68 L390.22,336.44 L392.03,338.16 L393.84,339.84 L395.64,341.47 L397.45,343.06 L399.26,344.6 L401.07,346.09 L402.87,347.53 L404.68,348.92 L406.49,350.25 L408.29,351.53 L410.1,352.75 L411.91,353.92 L413.71,355.04 L415.52,356.1 L417.33,357.12 L419.14,358.08 L420.94,358.99 L422.75,359.85 L424.56,360.67 L426.36,361.44 L428.17,362.17 L429.98,362.86 L431.78,363.5 L433.59,364.11 L435.4,364.69 L437.21,365.22 L439.01,365.73 L440.82,366.2" fill="none" stroke="#dc14dc" stroke-width="1.25" stroke-linejoin="round"/>
<path d="M332.4,292.17 L334.21,292.19 L336.01,292.27 L337.82,292.43 L339.63,292.68 L341.44,293.03 L343.24,293.51 L345.05,294.13 L346.86,294.9 L348.66,295.84 L350.47,296.97 L352.28,298.21 L354.08,299.48 L355.89,300.77 L357.7,302.09 L359.5,303.44 L361.31,304.81 L363.12,306.2 L364.93,307.61 L366.73,309.04 L368.54,310.48 L370.35,311.93 L372.15,313.4 L373.96,314.87 L375.77,316.35 L377.57,317.83 L379.38,319.32 L381.19,320.8 L383,322.27 L384.8,323.74 L386.61,325.2 L388.42,326.65 L390.22,328.09 L392.03,329.51 L393.84,330.91 L395.64,332.29 L397.45,333.65 L399.26,334.99 L401.07,336.3 L402.87,337.58 L404.68,338.84 L406.49,340.06 L408.29,341.26 L410.1,342.43 L411.91,343.56 L413.71,344.66 L415.52,345.73 L417.33,346.77 L419.14,347.77 L420.94,348.74 L422.75,349.68 L424.56,350.58 L426.36,351.46 L428.17,352.3 L429.98,353.1 L431.78,353.88 L433.59,354.62 L435.4,355.34 L437.21,356.03 L439.01,356.68 L440.82,357.31" fill="none" stroke="#08c408" stroke-width="1.25" stroke-linejoin="round"/>
<path d="M332.4,286.33 V299.67 M330.8,286.33 H334 M330.8,299.67 H334" stroke="#ff0c7c" stroke-width="1.35" fill="none"/>
<circle cx="332.4" cy="293" r="1.95" fill="#fff" fill-opacity="0.55" stroke="#ff0c7c" stroke-width="1.35"/>
<circle cx="350.47" cy="304.67" r="1.95" fill="#fff" fill-opacity="0.55" stroke="#ff0c7c" stroke-width="1.35"/>
<path d="M368.54,313.8 V318.87 M366.94,313.8 H370.14 M366.94,318.87 H370.14" stroke="#ff0c7c" stroke-width="1.35" fill="none"/>
<circle cx="368.54" cy="316.33" r="1.95" fill="#fff" fill-opacity="0.55" stroke="#ff0c7c" stroke-width="1.35"/>
<path d="M386.61,327.29 V332.05 M385.01,327.29 H388.21 M385.01,332.05 H388.21" stroke="#ff0c7c" stroke-width="1.35" fill="none"/>
<circle cx="386.61" cy="329.67" r="1.95" fill="#fff" fill-opacity="0.55" stroke="#ff0c7c" stroke-width="1.35"/>
<circle cx="404.68" cy="346.33" r="1.95" fill="#fff" fill-opacity="0.55" stroke="#ff0c7c" stroke-width="1.35"/>
<path d="M422.75,354.74 V359.6 M421.15,354.74 H424.35 M421.15,359.6 H424.35" stroke="#ff0c7c" stroke-width="1.35" fill="none"/>
<circle cx="422.75" cy="357.17" r="1.95" fill="#fff" fill-opacity="0.55" stroke="#ff0c7c" stroke-width="1.35"/>
<path d="M440.82,366 V370 M439.22,366 H442.42 M439.22,370 H442.42" stroke="#ff0c7c" stroke-width="1.35" fill="none"/>
<circle cx="440.82" cy="368" r="1.95" fill="#fff" fill-opacity="0.55" stroke="#ff0c7c" stroke-width="1.35"/>
<circle cx="332.4" cy="294.67" r="1.95" fill="#fff" fill-opacity="0.55" stroke="#dc14dc" stroke-width="1.35"/>
<path d="M350.47,303.75 V308.91 M348.87,303.75 H352.07 M348.87,308.91 H352.07" stroke="#dc14dc" stroke-width="1.35" fill="none"/>
<circle cx="350.47" cy="306.33" r="1.95" fill="#fff" fill-opacity="0.55" stroke="#dc14dc" stroke-width="1.35"/>
<circle cx="368.54" cy="317.17" r="1.95" fill="#fff" fill-opacity="0.55" stroke="#dc14dc" stroke-width="1.35"/>
<circle cx="386.61" cy="331.33" r="1.95" fill="#fff" fill-opacity="0.55" stroke="#dc14dc" stroke-width="1.35"/>
<circle cx="404.68" cy="348" r="1.95" fill="#fff" fill-opacity="0.55" stroke="#dc14dc" stroke-width="1.35"/>
<circle cx="422.75" cy="363.83" r="1.95" fill="#fff" fill-opacity="0.55" stroke="#dc14dc" stroke-width="1.35"/>
<circle cx="440.82" cy="370.5" r="1.95" fill="#fff" fill-opacity="0.55" stroke="#dc14dc" stroke-width="1.35"/>
<path d="M332.4,290.91 V295.09 M330.8,290.91 H334 M330.8,295.09 H334" stroke="#08c408" stroke-width="1.35" fill="none"/>
<circle cx="332.4" cy="293" r="1.95" fill="#fff" fill-opacity="0.55" stroke="#08c408" stroke-width="1.35"/>
<path d="M350.47,300.64 V305.36 M348.87,300.64 H352.07 M348.87,305.36 H352.07" stroke="#08c408" stroke-width="1.35" fill="none"/>
<circle cx="350.47" cy="303" r="1.95" fill="#fff" fill-opacity="0.55" stroke="#08c408" stroke-width="1.35"/>
<circle cx="368.54" cy="312.17" r="1.95" fill="#fff" fill-opacity="0.55" stroke="#08c408" stroke-width="1.35"/>
<path d="M386.61,323.21 V327.79 M385.01,323.21 H388.21 M385.01,327.79 H388.21" stroke="#08c408" stroke-width="1.35" fill="none"/>
<circle cx="386.61" cy="325.5" r="1.95" fill="#fff" fill-opacity="0.55" stroke="#08c408" stroke-width="1.35"/>
<circle cx="404.68" cy="336.33" r="1.95" fill="#fff" fill-opacity="0.55" stroke="#08c408" stroke-width="1.35"/>
<path d="M422.75,346.49 V351.18 M421.15,346.49 H424.35 M421.15,351.18 H424.35" stroke="#08c408" stroke-width="1.35" fill="none"/>
<circle cx="422.75" cy="348.83" r="1.95" fill="#fff" fill-opacity="0.55" stroke="#08c408" stroke-width="1.35"/>
<circle cx="440.82" cy="365.5" r="1.95" fill="#fff" fill-opacity="0.55" stroke="#08c408" stroke-width="1.35"/>
<circle cx="332.4" cy="292.17" r="1.95" fill="#fff" fill-opacity="0.55" stroke="#0c7c9c" stroke-width="1.35"/>
<circle cx="350.47" cy="303.83" r="1.95" fill="#fff" fill-opacity="0.55" stroke="#0c7c9c" stroke-width="1.35"/>
<circle cx="368.54" cy="313" r="1.95" fill="#fff" fill-opacity="0.55" stroke="#0c7c9c" stroke-width="1.35"/>
<path d="M386.61,316.22 V321.45 M385.01,316.22 H388.21 M385.01,321.45 H388.21" stroke="#0c7c9c" stroke-width="1.35" fill="none"/>
<circle cx="386.61" cy="318.83" r="1.95" fill="#fff" fill-opacity="0.55" stroke="#0c7c9c" stroke-width="1.35"/>
<circle cx="404.68" cy="332.17" r="1.95" fill="#fff" fill-opacity="0.55" stroke="#0c7c9c" stroke-width="1.35"/>
<circle cx="422.75" cy="352.17" r="1.95" fill="#fff" fill-opacity="0.55" stroke="#0c7c9c" stroke-width="1.35"/>
<circle cx="440.82" cy="368.83" r="1.95" fill="#fff" fill-opacity="0.55" stroke="#0c7c9c" stroke-width="1.35"/>
<path d="M332.4,288.83 V298.83 M330.8,288.83 H334 M330.8,298.83 H334" stroke="#111111" stroke-width="1.35" fill="none"/>
<circle cx="332.4" cy="293.83" r="1.95" fill="#fff" fill-opacity="0.55" stroke="#111111" stroke-width="1.35"/>
<circle cx="350.47" cy="302.17" r="1.95" fill="#fff" fill-opacity="0.55" stroke="#111111" stroke-width="1.35"/>
<circle cx="368.54" cy="310.5" r="1.95" fill="#fff" fill-opacity="0.55" stroke="#111111" stroke-width="1.35"/>
<circle cx="386.61" cy="327.17" r="1.95" fill="#fff" fill-opacity="0.55" stroke="#111111" stroke-width="1.35"/>
<circle cx="404.68" cy="340.5" r="1.95" fill="#fff" fill-opacity="0.55" stroke="#111111" stroke-width="1.35"/>
<circle cx="422.75" cy="355.5" r="1.95" fill="#fff" fill-opacity="0.55" stroke="#111111" stroke-width="1.35"/>
<circle cx="440.82" cy="367.17" r="1.95" fill="#fff" fill-opacity="0.55" stroke="#111111" stroke-width="1.35"/>
<circle cx="332.4" cy="292.17" r="1.95" fill="#fff" fill-opacity="0.55" stroke="#f8aa6c" stroke-width="0.9"/>
<circle cx="350.47" cy="299.25" r="1.95" fill="#fff" fill-opacity="0.55" stroke="#f8aa6c" stroke-width="0.9"/>
<path d="M368.54,303.9 V308.77 M366.94,303.9 H370.14 M366.94,308.77 H370.14" stroke="#f8aa6c" stroke-width="0.9" fill="none"/>
<circle cx="368.54" cy="306.33" r="1.95" fill="#fff" fill-opacity="0.55" stroke="#f8aa6c" stroke-width="0.9"/>
<circle cx="386.61" cy="307.17" r="1.95" fill="#fff" fill-opacity="0.55" stroke="#f8aa6c" stroke-width="0.9"/>
<path d="M404.68,313.83 V318.83 M403.08,313.83 H406.28 M403.08,318.83 H406.28" stroke="#f8aa6c" stroke-width="0.9" fill="none"/>
<circle cx="404.68" cy="316.33" r="1.95" fill="#fff" fill-opacity="0.55" stroke="#f8aa6c" stroke-width="0.9"/>
<circle cx="422.75" cy="334.67" r="1.95" fill="#fff" fill-opacity="0.55" stroke="#f8aa6c" stroke-width="0.9"/>
<path d="M440.82,345.92 V351.75 M439.22,345.92 H442.42 M439.22,351.75 H442.42" stroke="#f8aa6c" stroke-width="0.9" fill="none"/>
<circle cx="440.82" cy="348.83" r="1.95" fill="#fff" fill-opacity="0.55" stroke="#f8aa6c" stroke-width="0.9"/>
<line x1="314.5" y1="275.5" x2="459" y2="275.5" stroke="#111" stroke-width="1.05" />
<line x1="459" y1="275.5" x2="459" y2="375.5" stroke="#111" stroke-width="1.4" />
<line x1="314.5" y1="375.5" x2="459.7" y2="375.5" stroke="#111" stroke-width="1.05" />
<line x1="314.5" y1="275" x2="314.5" y2="376" stroke="#222" stroke-width="1.05" />
<line x1="310.5" y1="375.5" x2="314.5" y2="375.5" stroke="#222" stroke-width="1.1" />
<text x="308" y="378.7" font-size="7.0" text-anchor="end" fill="#151515" font-weight="normal" stroke="#151515" stroke-width="0.15" >0</text>
<line x1="310.5" y1="358.83" x2="314.5" y2="358.83" stroke="#222" stroke-width="1.1" />
<text x="308" y="361.81" font-size="7.0" text-anchor="end" fill="#151515" font-weight="normal" stroke="#151515" stroke-width="0.15" >20</text>
<line x1="310.5" y1="342.17" x2="314.5" y2="342.17" stroke="#222" stroke-width="1.1" />
<text x="308" y="344.92" font-size="7.0" text-anchor="end" fill="#151515" font-weight="normal" stroke="#151515" stroke-width="0.15" >40</text>
<line x1="310.5" y1="325.5" x2="314.5" y2="325.5" stroke="#222" stroke-width="1.1" />
<text x="308" y="328.03" font-size="7.0" text-anchor="end" fill="#151515" font-weight="normal" stroke="#151515" stroke-width="0.15" >60</text>
<line x1="310.5" y1="308.83" x2="314.5" y2="308.83" stroke="#222" stroke-width="1.1" />
<text x="308" y="311.13" font-size="7.0" text-anchor="end" fill="#151515" font-weight="normal" stroke="#151515" stroke-width="0.15" >80</text>
<line x1="310.5" y1="292.17" x2="314.5" y2="292.17" stroke="#222" stroke-width="1.1" />
<text x="308" y="294.24" font-size="7.0" text-anchor="end" fill="#151515" font-weight="normal" stroke="#151515" stroke-width="0.15" >100</text>
<line x1="310.5" y1="275.5" x2="314.5" y2="275.5" stroke="#222" stroke-width="1.1" />
<text x="308" y="277.35" font-size="7.0" text-anchor="end" fill="#151515" font-weight="normal" stroke="#151515" stroke-width="0.15" >120</text>
<line x1="332.4" y1="375.5" x2="332.4" y2="379.5" stroke="#222" stroke-width="1.2" />
<text x="331.9" y="387.8" font-size="7.0" text-anchor="middle" fill="#151515" font-weight="normal" stroke="#151515" stroke-width="0.15" >0.0</text>
<line x1="350.47" y1="375.5" x2="350.47" y2="379.5" stroke="#222" stroke-width="1.2" />
<text x="350.77" y="387.8" font-size="7.0" text-anchor="middle" fill="#151515" font-weight="normal" stroke="#151515" stroke-width="0.15" >1.0</text>
<line x1="368.54" y1="375.5" x2="368.54" y2="379.5" stroke="#222" stroke-width="1.2" />
<text x="368.84" y="387.8" font-size="7.0" text-anchor="middle" fill="#151515" font-weight="normal" stroke="#151515" stroke-width="0.15" >2.0</text>
<line x1="386.61" y1="375.5" x2="386.61" y2="379.5" stroke="#222" stroke-width="1.2" />
<text x="387.11" y="387.8" font-size="7.0" text-anchor="middle" fill="#151515" font-weight="normal" stroke="#151515" stroke-width="0.15" >4.0</text>
<line x1="404.68" y1="375.5" x2="404.68" y2="379.5" stroke="#222" stroke-width="1.2" />
<text x="405.48" y="387.8" font-size="7.0" text-anchor="middle" fill="#151515" font-weight="normal" stroke="#151515" stroke-width="0.15" >8.0</text>
<line x1="422.75" y1="375.5" x2="422.75" y2="379.5" stroke="#222" stroke-width="1.2" />
<text x="424.75" y="387.8" font-size="7.0" text-anchor="middle" fill="#151515" font-weight="normal" stroke="#151515" stroke-width="0.15" >16.0</text>
<line x1="440.82" y1="375.5" x2="440.82" y2="379.5" stroke="#222" stroke-width="1.2" />
<text x="444.42" y="387.8" font-size="7.0" text-anchor="middle" fill="#151515" font-weight="normal" stroke="#151515" stroke-width="0.15" >32.0</text>
<text x="290.3" y="324.7" font-size="7.4" text-anchor="middle" fill="#151515" font-weight="normal" stroke="#151515" stroke-width="0.15" transform="rotate(-90 290.3 324.7)" >Proliferation rate (%)</text>
<text x="366.1" y="399.6" font-size="7.1" fill="#222">Oxaliplatin <tspan style="font-family:Liberation Serif, serif">(&#956;M)</tspan></text>
<text x="513.7" y="270.8" font-size="7.1" text-anchor="start" fill="#151515" font-weight="normal" stroke="#151515" stroke-width="0.15" >IC50 (&#956;M)</text>
<line x1="469.6" y1="280.6" x2="479.6" y2="280.6" stroke="#f8aa6c" stroke-width="1.1" />
<circle cx="474.6" cy="280.6" r="1.9" fill="#fff" stroke="#f8aa6c" stroke-width="1.5"/>
<text x="480.6" y="283.1" font-size="7.1" text-anchor="start" fill="#ff2020" font-weight="normal" stroke="#ff2020" stroke-width="0.15" >SNU475</text>
<text x="530.1" y="282.5" font-size="7.1" text-anchor="middle" fill="#ff2020" font-weight="normal" stroke="#ff2020" stroke-width="0.15" >16.34</text>
<line x1="469.6" y1="292.1" x2="479.6" y2="292.1" stroke="#08c408" stroke-width="1.1" />
<circle cx="474.6" cy="292.1" r="1.9" fill="#fff" stroke="#08c408" stroke-width="1.5"/>
<text x="481.5" y="294.6" font-size="7.1" text-anchor="start" fill="#151515" font-weight="normal" stroke="#151515" stroke-width="0.15" >HepG2</text>
<text x="530.1" y="294" font-size="7.1" text-anchor="middle" fill="#151515" font-weight="normal" stroke="#151515" stroke-width="0.15" >6.78</text>
<line x1="469.6" y1="303.4" x2="479.6" y2="303.4" stroke="#0c7c9c" stroke-width="1.1" />
<circle cx="474.6" cy="303.4" r="1.9" fill="#fff" stroke="#0c7c9c" stroke-width="1.5"/>
<text x="481.5" y="305.9" font-size="7.1" text-anchor="start" fill="#151515" font-weight="normal" stroke="#151515" stroke-width="0.15" >Hep3B</text>
<text x="530.1" y="305.3" font-size="7.1" text-anchor="middle" fill="#151515" font-weight="normal" stroke="#151515" stroke-width="0.15" >7.53</text>
<line x1="469.6" y1="315.4" x2="479.6" y2="315.4" stroke="#111111" stroke-width="1.1" />
<circle cx="474.6" cy="315.4" r="1.9" fill="#fff" stroke="#111111" stroke-width="1.5"/>
<text x="481.5" y="317.9" font-size="7.1" text-anchor="start" fill="#151515" font-weight="normal" stroke="#151515" stroke-width="0.15" >Huh7</text>
<text x="530.1" y="317.3" font-size="7.1" text-anchor="middle" fill="#151515" font-weight="normal" stroke="#151515" stroke-width="0.15" >4.12</text>
<line x1="469.6" y1="326.7" x2="479.6" y2="326.7" stroke="#dc14dc" stroke-width="1.1" />
<circle cx="474.6" cy="326.7" r="1.9" fill="#fff" stroke="#dc14dc" stroke-width="1.5"/>
<text x="481.5" y="329.2" font-size="7.1" text-anchor="start" fill="#151515" font-weight="normal" stroke="#151515" stroke-width="0.15" >Huh1</text>
<text x="530.1" y="328.6" font-size="7.1" text-anchor="middle" fill="#151515" font-weight="normal" stroke="#151515" stroke-width="0.15" >6.24</text>
<line x1="469.6" y1="338.2" x2="479.6" y2="338.2" stroke="#ff0c7c" stroke-width="1.1" />
<circle cx="474.6" cy="338.2" r="1.9" fill="#fff" stroke="#ff0c7c" stroke-width="1.5"/>
<text x="481.5" y="340.7" font-size="7.1" text-anchor="start" fill="#151515" font-weight="normal" stroke="#151515" stroke-width="0.15" >SK-Hep1</text>
<text x="530.1" y="340.1" font-size="7.1" text-anchor="middle" fill="#151515" font-weight="normal" stroke="#151515" stroke-width="0.15" >4.86</text>
<path d="M56.6,438.9 L58.41,438.93 L60.23,439.03 L62.05,439.24 L63.86,439.57 L65.67,440.04 L67.49,440.69 L69.31,441.54 L71.12,442.61 L72.94,443.92 L74.75,445.51 L76.56,447.27 L78.38,449.1 L80.19,450.98 L82.01,452.93 L83.83,454.93 L85.64,456.97 L87.45,459.05 L89.27,461.17 L91.09,463.32 L92.9,465.48 L94.72,467.65 L96.53,469.83 L98.34,472 L100.16,474.16 L101.97,476.3 L103.79,478.4 L105.61,480.48 L107.42,482.51 L109.24,484.49 L111.05,486.41 L112.87,488.28 L114.68,490.09 L116.5,491.82 L118.31,493.49 L120.12,495.09 L121.94,496.62 L123.75,498.08 L125.57,499.46 L127.38,500.77 L129.2,502.01 L131.02,503.18 L132.83,504.29 L134.64,505.33 L136.46,506.3 L138.28,507.21 L140.09,508.06 L141.91,508.86 L143.72,509.6 L145.53,510.3 L147.35,510.94 L149.16,511.54 L150.98,512.1 L152.8,512.61 L154.61,513.09 L156.42,513.53 L158.24,513.94 L160.06,514.32 L161.87,514.67 L163.69,515 L165.5,515.29" fill="none" stroke="#f8aa6c" stroke-width="0.8" stroke-linejoin="round"/>
<path d="M56.6,438.9 L58.41,438.87 L60.23,438.8 L62.05,438.72 L63.86,438.63 L65.67,438.58 L67.49,438.58 L69.31,438.66 L71.12,438.83 L72.94,439.13 L74.75,439.57 L76.56,440.11 L78.38,440.67 L80.19,441.26 L82.01,441.87 L83.83,442.51 L85.64,443.18 L87.45,443.88 L89.27,444.61 L91.09,445.36 L92.9,446.15 L94.72,446.97 L96.53,447.81 L98.34,448.69 L100.16,449.6 L101.97,450.55 L103.79,451.52 L105.61,452.52 L107.42,453.56 L109.24,454.62 L111.05,455.72 L112.87,456.84 L114.68,457.99 L116.5,459.17 L118.31,460.38 L120.12,461.61 L121.94,462.86 L123.75,464.14 L125.57,465.43 L127.38,466.75 L129.2,468.08 L131.02,469.42 L132.83,470.78 L134.64,472.15 L136.46,473.52 L138.28,474.9 L140.09,476.28 L141.91,477.67 L143.72,479.05 L145.53,480.43 L147.35,481.8 L149.16,483.17 L150.98,484.52 L152.8,485.86 L154.61,487.19 L156.42,488.5 L158.24,489.79 L160.06,491.05 L161.87,492.3 L163.69,493.52 L165.5,494.72" fill="none" stroke="#0c7c9c" stroke-width="1.25" stroke-linejoin="round"/>
<path d="M56.6,438.9 L58.41,438.88 L60.23,438.82 L62.05,438.75 L63.86,438.69 L65.67,438.65 L67.49,438.67 L69.31,438.76 L71.12,438.93 L72.94,439.22 L74.75,439.64 L76.56,440.14 L78.38,440.68 L80.19,441.24 L82.01,441.82 L83.83,442.44 L85.64,443.09 L87.45,443.77 L89.27,444.49 L91.09,445.24 L92.9,446.02 L94.72,446.83 L96.53,447.68 L98.34,448.56 L100.16,449.48 L101.97,450.44 L103.79,451.42 L105.61,452.45 L107.42,453.5 L109.24,454.59 L111.05,455.71 L112.87,456.86 L114.68,458.04 L116.5,459.24 L118.31,460.47 L120.12,461.73 L121.94,463.01 L123.75,464.3 L125.57,465.62 L127.38,466.94 L129.2,468.28 L131.02,469.63 L132.83,470.98 L134.64,472.33 L136.46,473.69 L138.28,475.04 L140.09,476.38 L141.91,477.71 L143.72,479.03 L145.53,480.34 L147.35,481.63 L149.16,482.9 L150.98,484.14 L152.8,485.37 L154.61,486.56 L156.42,487.73 L158.24,488.86 L160.06,489.97 L161.87,491.05 L163.69,492.09 L165.5,493.09" fill="none" stroke="#111111" stroke-width="1.25" stroke-linejoin="round"/>
<path d="M56.6,438.9 L58.41,438.88 L60.23,438.85 L62.05,438.81 L63.86,438.79 L65.67,438.79 L67.49,438.85 L69.31,438.96 L71.12,439.16 L72.94,439.46 L74.75,439.87 L76.56,440.36 L78.38,440.87 L80.19,441.41 L82.01,441.97 L83.83,442.55 L85.64,443.16 L87.45,443.79 L89.27,444.46 L91.09,445.15 L92.9,445.87 L94.72,446.61 L96.53,447.38 L98.34,448.19 L100.16,449.02 L101.97,449.88 L103.79,450.76 L105.61,451.68 L107.42,452.62 L109.24,453.59 L111.05,454.58 L112.87,455.6 L114.68,456.65 L116.5,457.72 L118.31,458.81 L120.12,459.92 L121.94,461.05 L123.75,462.2 L125.57,463.36 L127.38,464.54 L129.2,465.73 L131.02,466.93 L132.83,468.14 L134.64,469.36 L136.46,470.58 L138.28,471.8 L140.09,473.02 L141.91,474.24 L143.72,475.45 L145.53,476.66 L147.35,477.86 L149.16,479.05 L150.98,480.22 L152.8,481.38 L154.61,482.52 L156.42,483.64 L158.24,484.75 L160.06,485.83 L161.87,486.89 L163.69,487.92 L165.5,488.93" fill="none" stroke="#ff0c7c" stroke-width="1.25" stroke-linejoin="round"/>
<path d="M56.6,438.9 L58.41,438.88 L60.23,438.84 L62.05,438.8 L63.86,438.77 L65.67,438.77 L67.49,438.82 L69.31,438.94 L71.12,439.14 L72.94,439.44 L74.75,439.86 L76.56,440.35 L78.38,440.87 L80.19,441.42 L82.01,441.98 L83.83,442.58 L85.64,443.2 L87.45,443.85 L89.27,444.52 L91.09,445.23 L92.9,445.96 L94.72,446.72 L96.53,447.5 L98.34,448.32 L100.16,449.16 L101.97,450.03 L103.79,450.93 L105.61,451.86 L107.42,452.82 L109.24,453.8 L111.05,454.8 L112.87,455.83 L114.68,456.88 L116.5,457.96 L118.31,459.05 L120.12,460.16 L121.94,461.29 L123.75,462.44 L125.57,463.6 L127.38,464.77 L129.2,465.95 L131.02,467.13 L132.83,468.32 L134.64,469.51 L136.46,470.71 L138.28,471.9 L140.09,473.08 L141.91,474.26 L143.72,475.43 L145.53,476.59 L147.35,477.74 L149.16,478.87 L150.98,479.99 L152.8,481.08 L154.61,482.16 L156.42,483.21 L158.24,484.25 L160.06,485.26 L161.87,486.24 L163.69,487.2 L165.5,488.13" fill="none" stroke="#dc14dc" stroke-width="1.25" stroke-linejoin="round"/>
<path d="M56.6,438.9 L58.41,438.88 L60.23,438.83 L62.05,438.78 L63.86,438.76 L65.67,438.77 L67.49,438.85 L69.31,439.02 L71.12,439.31 L72.94,439.72 L74.75,440.3 L76.56,440.98 L78.38,441.7 L80.19,442.45 L82.01,443.25 L83.83,444.08 L85.64,444.96 L87.45,445.88 L89.27,446.84 L91.09,447.84 L92.9,448.88 L94.72,449.96 L96.53,451.08 L98.34,452.24 L100.16,453.44 L101.97,454.67 L103.79,455.94 L105.61,457.24 L107.42,458.57 L109.24,459.92 L111.05,461.29 L112.87,462.69 L114.68,464.1 L116.5,465.52 L118.31,466.95 L120.12,468.39 L121.94,469.82 L123.75,471.25 L125.57,472.68 L127.38,474.09 L129.2,475.48 L131.02,476.86 L132.83,478.22 L134.64,479.55 L136.46,480.85 L138.28,482.12 L140.09,483.35 L141.91,484.55 L143.72,485.72 L145.53,486.84 L147.35,487.93 L149.16,488.97 L150.98,489.97 L152.8,490.94 L154.61,491.86 L156.42,492.74 L158.24,493.58 L160.06,494.38 L161.87,495.14 L163.69,495.86 L165.5,496.54" fill="none" stroke="#08c408" stroke-width="1.25" stroke-linejoin="round"/>
<circle cx="56.6" cy="438.9" r="1.95" fill="#fff" fill-opacity="0.55" stroke="#ff0c7c" stroke-width="1.35"/>
<circle cx="74.75" cy="440.57" r="1.95" fill="#fff" fill-opacity="0.55" stroke="#ff0c7c" stroke-width="1.35"/>
<circle cx="92.9" cy="446.41" r="1.95" fill="#fff" fill-opacity="0.55" stroke="#ff0c7c" stroke-width="1.35"/>
<circle cx="111.05" cy="455.6" r="1.95" fill="#fff" fill-opacity="0.55" stroke="#ff0c7c" stroke-width="1.35"/>
<circle cx="129.2" cy="463.95" r="1.95" fill="#fff" fill-opacity="0.55" stroke="#ff0c7c" stroke-width="1.35"/>
<path d="M147.35,474.85 V479.77 M145.75,474.85 H148.95 M145.75,479.77 H148.95" stroke="#ff0c7c" stroke-width="1.35" fill="none"/>
<circle cx="147.35" cy="477.31" r="1.95" fill="#fff" fill-opacity="0.55" stroke="#ff0c7c" stroke-width="1.35"/>
<circle cx="165.5" cy="489" r="1.95" fill="#fff" fill-opacity="0.55" stroke="#ff0c7c" stroke-width="1.35"/>
<circle cx="56.6" cy="438.9" r="1.95" fill="#fff" fill-opacity="0.55" stroke="#dc14dc" stroke-width="1.35"/>
<path d="M74.75,439.04 V443.77 M73.15,439.04 H76.35 M73.15,443.77 H76.35" stroke="#dc14dc" stroke-width="1.35" fill="none"/>
<circle cx="74.75" cy="441.4" r="1.95" fill="#fff" fill-opacity="0.55" stroke="#dc14dc" stroke-width="1.35"/>
<circle cx="92.9" cy="447.25" r="1.95" fill="#fff" fill-opacity="0.55" stroke="#dc14dc" stroke-width="1.35"/>
<circle cx="111.05" cy="454.76" r="1.95" fill="#fff" fill-opacity="0.55" stroke="#dc14dc" stroke-width="1.35"/>
<path d="M129.2,460.85 V465.38 M127.6,460.85 H130.8 M127.6,465.38 H130.8" stroke="#dc14dc" stroke-width="1.35" fill="none"/>
<circle cx="129.2" cy="463.12" r="1.95" fill="#fff" fill-opacity="0.55" stroke="#dc14dc" stroke-width="1.35"/>
<circle cx="147.35" cy="475.64" r="1.95" fill="#fff" fill-opacity="0.55" stroke="#dc14dc" stroke-width="1.35"/>
<path d="M165.5,484.19 V488.8 M163.9,484.19 H167.1 M163.9,488.8 H167.1" stroke="#dc14dc" stroke-width="1.35" fill="none"/>
<circle cx="165.5" cy="486.5" r="1.95" fill="#fff" fill-opacity="0.55" stroke="#dc14dc" stroke-width="1.35"/>
<path d="M56.6,438.39 V442.75 M55,438.39 H58.2 M55,442.75 H58.2" stroke="#08c408" stroke-width="1.35" fill="none"/>
<circle cx="56.6" cy="440.57" r="1.95" fill="#fff" fill-opacity="0.55" stroke="#08c408" stroke-width="1.35"/>
<path d="M74.75,443.34 V447.82 M73.15,443.34 H76.35 M73.15,447.82 H76.35" stroke="#08c408" stroke-width="1.35" fill="none"/>
<circle cx="74.75" cy="445.58" r="1.95" fill="#fff" fill-opacity="0.55" stroke="#08c408" stroke-width="1.35"/>
<path d="M92.9,450.93 V455.26 M91.3,450.93 H94.5 M91.3,455.26 H94.5" stroke="#08c408" stroke-width="1.35" fill="none"/>
<circle cx="92.9" cy="453.09" r="1.95" fill="#fff" fill-opacity="0.55" stroke="#08c408" stroke-width="1.35"/>
<circle cx="111.05" cy="462.28" r="1.95" fill="#fff" fill-opacity="0.55" stroke="#08c408" stroke-width="1.35"/>
<path d="M129.2,469.92 V474.68 M127.6,469.92 H130.8 M127.6,474.68 H130.8" stroke="#08c408" stroke-width="1.35" fill="none"/>
<circle cx="129.2" cy="472.3" r="1.95" fill="#fff" fill-opacity="0.55" stroke="#08c408" stroke-width="1.35"/>
<circle cx="147.35" cy="487.33" r="1.95" fill="#fff" fill-opacity="0.55" stroke="#08c408" stroke-width="1.35"/>
<path d="M165.5,498.46 V502.92 M163.9,498.46 H167.1 M163.9,502.92 H167.1" stroke="#08c408" stroke-width="1.35" fill="none"/>
<circle cx="165.5" cy="500.69" r="1.95" fill="#fff" fill-opacity="0.55" stroke="#08c408" stroke-width="1.35"/>
<path d="M56.6,434.31 V441.82 M55,434.31 H58.2 M55,441.82 H58.2" stroke="#0c7c9c" stroke-width="1.35" fill="none"/>
<circle cx="56.6" cy="438.06" r="1.95" fill="#fff" fill-opacity="0.55" stroke="#0c7c9c" stroke-width="1.35"/>
<circle cx="74.75" cy="443.07" r="1.95" fill="#fff" fill-opacity="0.55" stroke="#0c7c9c" stroke-width="1.35"/>
<path d="M92.9,448.31 V452.87 M91.3,448.31 H94.5 M91.3,452.87 H94.5" stroke="#0c7c9c" stroke-width="1.35" fill="none"/>
<circle cx="92.9" cy="450.59" r="1.95" fill="#fff" fill-opacity="0.55" stroke="#0c7c9c" stroke-width="1.35"/>
<circle cx="111.05" cy="457.27" r="1.95" fill="#fff" fill-opacity="0.55" stroke="#0c7c9c" stroke-width="1.35"/>
<circle cx="129.2" cy="468.96" r="1.95" fill="#fff" fill-opacity="0.55" stroke="#0c7c9c" stroke-width="1.35"/>
<circle cx="147.35" cy="481.49" r="1.95" fill="#fff" fill-opacity="0.55" stroke="#0c7c9c" stroke-width="1.35"/>
<path d="M165.5,493.29 V498.07 M163.9,493.29 H167.1 M163.9,498.07 H167.1" stroke="#0c7c9c" stroke-width="1.35" fill="none"/>
<circle cx="165.5" cy="495.68" r="1.95" fill="#fff" fill-opacity="0.55" stroke="#0c7c9c" stroke-width="1.35"/>
<circle cx="56.6" cy="439.74" r="1.95" fill="#fff" fill-opacity="0.55" stroke="#111111" stroke-width="1.35"/>
<circle cx="74.75" cy="442.24" r="1.95" fill="#fff" fill-opacity="0.55" stroke="#111111" stroke-width="1.35"/>
<circle cx="92.9" cy="448.92" r="1.95" fill="#fff" fill-opacity="0.55" stroke="#111111" stroke-width="1.35"/>
<circle cx="111.05" cy="456.44" r="1.95" fill="#fff" fill-opacity="0.55" stroke="#111111" stroke-width="1.35"/>
<circle cx="129.2" cy="466.45" r="1.95" fill="#fff" fill-opacity="0.55" stroke="#111111" stroke-width="1.35"/>
<circle cx="147.35" cy="478.14" r="1.95" fill="#fff" fill-opacity="0.55" stroke="#111111" stroke-width="1.35"/>
<circle cx="165.5" cy="493.17" r="1.95" fill="#fff" fill-opacity="0.55" stroke="#111111" stroke-width="1.35"/>
<path d="M56.6,436.62 V441.18 M55,436.62 H58.2 M55,441.18 H58.2" stroke="#f8aa6c" stroke-width="0.9" fill="none"/>
<circle cx="56.6" cy="438.9" r="1.95" fill="#fff" fill-opacity="0.55" stroke="#f8aa6c" stroke-width="0.9"/>
<path d="M74.75,452.31 V457.22 M73.15,452.31 H76.35 M73.15,457.22 H76.35" stroke="#f8aa6c" stroke-width="0.9" fill="none"/>
<circle cx="74.75" cy="454.76" r="1.95" fill="#fff" fill-opacity="0.55" stroke="#f8aa6c" stroke-width="0.9"/>
<path d="M92.9,463.46 V467.78 M91.3,463.46 H94.5 M91.3,467.78 H94.5" stroke="#f8aa6c" stroke-width="0.9" fill="none"/>
<circle cx="92.9" cy="465.62" r="1.95" fill="#fff" fill-opacity="0.55" stroke="#f8aa6c" stroke-width="0.9"/>
<circle cx="111.05" cy="486.5" r="1.95" fill="#fff" fill-opacity="0.55" stroke="#f8aa6c" stroke-width="0.9"/>
<path d="M129.2,499.94 V504.78 M127.6,499.94 H130.8 M127.6,504.78 H130.8" stroke="#f8aa6c" stroke-width="0.9" fill="none"/>
<circle cx="129.2" cy="502.36" r="1.95" fill="#fff" fill-opacity="0.55" stroke="#f8aa6c" stroke-width="0.9"/>
<path d="M147.35,508.7 V512.72 M145.75,508.7 H148.95 M145.75,512.72 H148.95" stroke="#f8aa6c" stroke-width="0.9" fill="none"/>
<circle cx="147.35" cy="510.71" r="1.95" fill="#fff" fill-opacity="0.55" stroke="#f8aa6c" stroke-width="0.9"/>
<path d="M165.5,514.14 V518.97 M163.9,514.14 H167.1 M163.9,518.97 H167.1" stroke="#f8aa6c" stroke-width="0.9" fill="none"/>
<circle cx="165.5" cy="516.55" r="1.95" fill="#fff" fill-opacity="0.55" stroke="#f8aa6c" stroke-width="0.9"/>
<line x1="39" y1="422.2" x2="183.5" y2="422.2" stroke="#111" stroke-width="1.05" />
<line x1="183.5" y1="422.2" x2="183.5" y2="522.4" stroke="#111" stroke-width="1.05" />
<line x1="39" y1="522.4" x2="184.03" y2="522.4" stroke="#111" stroke-width="1.05" />
<line x1="39" y1="421.7" x2="39" y2="522.9" stroke="#222" stroke-width="1.25" />
<line x1="35" y1="522.4" x2="39" y2="522.4" stroke="#222" stroke-width="1.1" />
<text x="31.7" y="525.5" font-size="7.0" text-anchor="end" fill="#151515" font-weight="normal" stroke="#151515" stroke-width="0.15" >0</text>
<line x1="35" y1="505.7" x2="39" y2="505.7" stroke="#222" stroke-width="1.1" />
<text x="31.7" y="508.6" font-size="7.0" text-anchor="end" fill="#151515" font-weight="normal" stroke="#151515" stroke-width="0.15" >20</text>
<line x1="35" y1="489" x2="39" y2="489" stroke="#222" stroke-width="1.1" />
<text x="31.7" y="491.7" font-size="7.0" text-anchor="end" fill="#151515" font-weight="normal" stroke="#151515" stroke-width="0.15" >40</text>
<line x1="35" y1="472.3" x2="39" y2="472.3" stroke="#222" stroke-width="1.1" />
<text x="31.7" y="474.8" font-size="7.0" text-anchor="end" fill="#151515" font-weight="normal" stroke="#151515" stroke-width="0.15" >60</text>
<line x1="35" y1="455.6" x2="39" y2="455.6" stroke="#222" stroke-width="1.1" />
<text x="31.7" y="457.9" font-size="7.0" text-anchor="end" fill="#151515" font-weight="normal" stroke="#151515" stroke-width="0.15" >80</text>
<line x1="35" y1="438.9" x2="39" y2="438.9" stroke="#222" stroke-width="1.1" />
<text x="31.7" y="441" font-size="7.0" text-anchor="end" fill="#151515" font-weight="normal" stroke="#151515" stroke-width="0.15" >100</text>
<line x1="35" y1="422.2" x2="39" y2="422.2" stroke="#222" stroke-width="1.1" />
<text x="31.7" y="424.1" font-size="7.0" text-anchor="end" fill="#151515" font-weight="normal" stroke="#151515" stroke-width="0.15" >120</text>
<line x1="56.6" y1="522.4" x2="56.6" y2="526.4" stroke="#222" stroke-width="1.2" />
<text x="54.2" y="534.7" font-size="7.0" text-anchor="middle" fill="#151515" font-weight="normal" stroke="#151515" stroke-width="0.15" >0.0</text>
<line x1="74.75" y1="522.4" x2="74.75" y2="526.4" stroke="#222" stroke-width="1.2" />
<text x="71.85" y="534.7" font-size="7.0" text-anchor="middle" fill="#151515" font-weight="normal" stroke="#151515" stroke-width="0.15" >0.25</text>
<line x1="92.9" y1="522.4" x2="92.9" y2="526.4" stroke="#222" stroke-width="1.2" />
<text x="91.3" y="534.7" font-size="7.0" text-anchor="middle" fill="#151515" font-weight="normal" stroke="#151515" stroke-width="0.15" >0.5</text>
<line x1="111.05" y1="522.4" x2="111.05" y2="526.4" stroke="#222" stroke-width="1.2" />
<text x="109.95" y="534.7" font-size="7.0" text-anchor="middle" fill="#151515" font-weight="normal" stroke="#151515" stroke-width="0.15" >1.0</text>
<line x1="129.2" y1="522.4" x2="129.2" y2="526.4" stroke="#222" stroke-width="1.2" />
<text x="128.1" y="534.7" font-size="7.0" text-anchor="middle" fill="#151515" font-weight="normal" stroke="#151515" stroke-width="0.15" >2.0</text>
<line x1="147.35" y1="522.4" x2="147.35" y2="526.4" stroke="#222" stroke-width="1.2" />
<text x="146.95" y="534.7" font-size="7.0" text-anchor="middle" fill="#151515" font-weight="normal" stroke="#151515" stroke-width="0.15" >4.0</text>
<line x1="165.5" y1="522.4" x2="165.5" y2="526.4" stroke="#222" stroke-width="1.2" />
<text x="165.7" y="534.7" font-size="7.0" text-anchor="middle" fill="#151515" font-weight="normal" stroke="#151515" stroke-width="0.15" >8.0</text>
<text x="14.8" y="471.5" font-size="7.4" text-anchor="middle" fill="#151515" font-weight="normal" stroke="#151515" stroke-width="0.15" transform="rotate(-90 14.8 471.5)" >Proliferation rate (%)</text>
<text x="85.1" y="545" font-size="7.1" text-anchor="start" fill="#151515" font-weight="normal" stroke="#151515" stroke-width="0.15" >WEHI-539 (&#956;M)</text>
<text x="240.9" y="418.6" font-size="7.1" text-anchor="start" fill="#151515" font-weight="normal" stroke="#151515" stroke-width="0.15" >IC50 (&#956;M)</text>
<line x1="189.2" y1="428.2" x2="199.2" y2="428.2" stroke="#f8aa6c" stroke-width="1.1" />
<circle cx="194.2" cy="428.2" r="1.9" fill="#fff" stroke="#f8aa6c" stroke-width="1.5"/>
<text x="200.9" y="430.7" font-size="7.1" text-anchor="start" fill="#ff2020" font-weight="normal" stroke="#ff2020" stroke-width="0.15" >SNU475</text>
<text x="256.7" y="430.1" font-size="7.1" text-anchor="middle" fill="#ff2020" font-weight="normal" stroke="#ff2020" stroke-width="0.15" >0.84</text>
<line x1="189.2" y1="440" x2="199.2" y2="440" stroke="#08c408" stroke-width="1.1" />
<circle cx="194.2" cy="440" r="1.9" fill="#fff" stroke="#08c408" stroke-width="1.5"/>
<text x="201.5" y="442.5" font-size="7.1" text-anchor="start" fill="#151515" font-weight="normal" stroke="#151515" stroke-width="0.15" >HepG2</text>
<text x="256.7" y="441.9" font-size="7.1" text-anchor="middle" fill="#151515" font-weight="normal" stroke="#151515" stroke-width="0.15" >2.95</text>
<line x1="189.2" y1="451.8" x2="199.2" y2="451.8" stroke="#0c7c9c" stroke-width="1.1" />
<circle cx="194.2" cy="451.8" r="1.9" fill="#fff" stroke="#0c7c9c" stroke-width="1.5"/>
<text x="201.5" y="454.3" font-size="7.1" text-anchor="start" fill="#151515" font-weight="normal" stroke="#151515" stroke-width="0.15" >Hep3B</text>
<text x="256.7" y="453.7" font-size="7.1" text-anchor="middle" fill="#151515" font-weight="normal" stroke="#151515" stroke-width="0.15" >3.93</text>
<line x1="189.2" y1="463.6" x2="199.2" y2="463.6" stroke="#111111" stroke-width="1.1" />
<circle cx="194.2" cy="463.6" r="1.9" fill="#fff" stroke="#111111" stroke-width="1.5"/>
<text x="201.5" y="466.1" font-size="7.1" text-anchor="start" fill="#151515" font-weight="normal" stroke="#151515" stroke-width="0.15" >Huh7</text>
<text x="256.7" y="465.5" font-size="7.1" text-anchor="middle" fill="#151515" font-weight="normal" stroke="#151515" stroke-width="0.15" >4.98</text>
<line x1="189.2" y1="474.9" x2="199.2" y2="474.9" stroke="#dc14dc" stroke-width="1.1" />
<circle cx="194.2" cy="474.9" r="1.9" fill="#fff" stroke="#dc14dc" stroke-width="1.5"/>
<text x="201.5" y="477.4" font-size="7.1" text-anchor="start" fill="#151515" font-weight="normal" stroke="#151515" stroke-width="0.15" >Huh1</text>
<text x="256.7" y="476.8" font-size="7.1" text-anchor="middle" fill="#151515" font-weight="normal" stroke="#151515" stroke-width="0.15" >4.24</text>
<line x1="189.2" y1="486.4" x2="199.2" y2="486.4" stroke="#ff0c7c" stroke-width="1.1" />
<circle cx="194.2" cy="486.4" r="1.9" fill="#fff" stroke="#ff0c7c" stroke-width="1.5"/>
<text x="201.5" y="488.9" font-size="7.1" text-anchor="start" fill="#151515" font-weight="normal" stroke="#151515" stroke-width="0.15" >SK-Hep1</text>
<text x="256.7" y="488.3" font-size="7.1" text-anchor="middle" fill="#151515" font-weight="normal" stroke="#151515" stroke-width="0.15" >4.73</text>
<path d="M332.4,439.07 L334.21,439.38 L336.01,440.25 L337.82,441.62 L339.63,443.41 L341.44,445.54 L343.24,447.94 L345.05,450.53 L346.86,453.23 L348.66,455.97 L350.47,458.68 L352.28,461.36 L354.08,464.08 L355.89,466.8 L357.7,469.53 L359.5,472.23 L361.31,474.91 L363.12,477.55 L364.93,480.13 L366.73,482.64 L368.54,485.07 L370.35,487.42 L372.15,489.67 L373.96,491.83 L375.77,493.87 L377.57,495.82 L379.38,497.65 L381.19,499.37 L383,500.99 L384.8,502.5 L386.61,503.9 L388.42,505.21 L390.22,506.42 L392.03,507.54 L393.84,508.57 L395.64,509.53 L397.45,510.4 L399.26,511.2 L401.07,511.94 L402.87,512.61 L404.68,513.22 L406.49,513.78 L408.29,514.29 L410.1,514.75 L411.91,515.17 L413.71,515.56 L415.52,515.9 L417.33,516.22 L419.14,516.51 L420.94,516.77 L422.75,517 L424.56,517.21 L426.36,517.41 L428.17,517.58 L429.98,517.74 L431.78,517.88 L433.59,518.01 L435.4,518.13 L437.21,518.23 L439.01,518.33 L440.82,518.41" fill="none" stroke="#f8aa6c" stroke-width="0.8" stroke-linejoin="round"/>
<path d="M332.4,439.07 L334.21,439.04 L336.01,438.97 L337.82,438.89 L339.63,438.84 L341.44,438.86 L343.24,438.98 L345.05,439.23 L346.86,439.64 L348.66,440.26 L350.47,441.11 L352.28,442.13 L354.08,443.24 L355.89,444.44 L357.7,445.75 L359.5,447.15 L361.31,448.65 L363.12,450.25 L364.93,451.96 L366.73,453.76 L368.54,455.67 L370.35,457.66 L372.15,459.74 L373.96,461.9 L375.77,464.12 L377.57,466.39 L379.38,468.71 L381.19,471.06 L383,473.42 L384.8,475.78 L386.61,478.12 L388.42,480.44 L390.22,482.7 L392.03,484.92 L393.84,487.06 L395.64,489.12 L397.45,491.1 L399.26,492.99 L401.07,494.78 L402.87,496.46 L404.68,498.05 L406.49,499.53 L408.29,500.92 L410.1,502.2 L411.91,503.39 L413.71,504.48 L415.52,505.49 L417.33,506.41 L419.14,507.26 L420.94,508.03 L422.75,508.73 L424.56,509.37 L426.36,509.95 L428.17,510.48 L429.98,510.95 L431.78,511.38 L433.59,511.77 L435.4,512.12 L437.21,512.43 L439.01,512.72 L440.82,512.97" fill="none" stroke="#0c7c9c" stroke-width="1.25" stroke-linejoin="round"/>
<path d="M332.4,439.07 L334.21,439.04 L336.01,438.96 L337.82,438.88 L339.63,438.82 L341.44,438.8 L343.24,438.87 L345.05,439.04 L346.86,439.36 L348.66,439.84 L350.47,440.52 L352.28,441.34 L354.08,442.2 L355.89,443.11 L357.7,444.07 L359.5,445.08 L361.31,446.14 L363.12,447.25 L364.93,448.4 L366.73,449.61 L368.54,450.87 L370.35,452.17 L372.15,453.52 L373.96,454.92 L375.77,456.35 L377.57,457.83 L379.38,459.34 L381.19,460.89 L383,462.47 L384.8,464.07 L386.61,465.69 L388.42,467.33 L390.22,468.98 L392.03,470.64 L393.84,472.29 L395.64,473.94 L397.45,475.59 L399.26,477.22 L401.07,478.83 L402.87,480.42 L404.68,481.98 L406.49,483.51 L408.29,485 L410.1,486.46 L411.91,487.87 L413.71,489.24 L415.52,490.57 L417.33,491.85 L419.14,493.08 L420.94,494.26 L422.75,495.39 L424.56,496.47 L426.36,497.5 L428.17,498.48 L429.98,499.41 L431.78,500.29 L433.59,501.13 L435.4,501.92 L437.21,502.67 L439.01,503.37 L440.82,504.04" fill="none" stroke="#111111" stroke-width="1.25" stroke-linejoin="round"/>
<path d="M332.4,439.07 L334.21,439.06 L336.01,439.03 L337.82,439.01 L339.63,439 L341.44,439.01 L343.24,439.06 L345.05,439.16 L346.86,439.31 L348.66,439.53 L350.47,439.84 L352.28,440.2 L354.08,440.58 L355.89,440.99 L357.7,441.43 L359.5,441.9 L361.31,442.39 L363.12,442.91 L364.93,443.47 L366.73,444.06 L368.54,444.68 L370.35,445.34 L372.15,446.04 L373.96,446.77 L375.77,447.54 L377.57,448.35 L379.38,449.2 L381.19,450.09 L383,451.02 L384.8,451.99 L386.61,453 L388.42,454.05 L390.22,455.14 L392.03,456.26 L393.84,457.43 L395.64,458.62 L397.45,459.85 L399.26,461.12 L401.07,462.41 L402.87,463.72 L404.68,465.06 L406.49,466.41 L408.29,467.78 L410.1,469.17 L411.91,470.56 L413.71,471.95 L415.52,473.35 L417.33,474.74 L419.14,476.13 L420.94,477.5 L422.75,478.86 L424.56,480.2 L426.36,481.52 L428.17,482.81 L429.98,484.08 L431.78,485.31 L433.59,486.52 L435.4,487.68 L437.21,488.82 L439.01,489.91 L440.82,490.97" fill="none" stroke="#ff0c7c" stroke-width="1.25" stroke-linejoin="round"/>
<path d="M332.4,439.07 L334.21,439.02 L336.01,438.89 L337.82,438.73 L339.63,438.57 L341.44,438.45 L343.24,438.4 L345.05,438.45 L346.86,438.65 L348.66,439.04 L350.47,439.64 L352.28,440.37 L354.08,441.13 L355.89,441.9 L357.7,442.69 L359.5,443.5 L361.31,444.33 L363.12,445.18 L364.93,446.04 L366.73,446.93 L368.54,447.83 L370.35,448.75 L372.15,449.69 L373.96,450.65 L375.77,451.62 L377.57,452.6 L379.38,453.61 L381.19,454.62 L383,455.65 L384.8,456.7 L386.61,457.76 L388.42,458.83 L390.22,459.91 L392.03,461 L393.84,462.1 L395.64,463.2 L397.45,464.32 L399.26,465.44 L401.07,466.57 L402.87,467.7 L404.68,468.83 L406.49,469.97 L408.29,471.1 L410.1,472.24 L411.91,473.38 L413.71,474.51 L415.52,475.64 L417.33,476.77 L419.14,477.89 L420.94,479 L422.75,480.11 L424.56,481.2 L426.36,482.29 L428.17,483.37 L429.98,484.44 L431.78,485.49 L433.59,486.54 L435.4,487.57 L437.21,488.58 L439.01,489.58 L440.82,490.56" fill="none" stroke="#dc14dc" stroke-width="1.25" stroke-linejoin="round"/>
<path d="M332.4,439.07 L334.21,439.06 L336.01,439.05 L337.82,439.08 L339.63,439.17 L341.44,439.36 L343.24,439.67 L345.05,440.12 L346.86,440.76 L348.66,441.61 L350.47,442.7 L352.28,443.96 L354.08,445.29 L355.89,446.69 L357.7,448.17 L359.5,449.71 L361.31,451.33 L363.12,453.01 L364.93,454.76 L366.73,456.57 L368.54,458.42 L370.35,460.33 L372.15,462.28 L373.96,464.26 L375.77,466.27 L377.57,468.29 L379.38,470.32 L381.19,472.35 L383,474.38 L384.8,476.38 L386.61,478.36 L388.42,480.31 L390.22,482.21 L392.03,484.06 L393.84,485.86 L395.64,487.61 L397.45,489.28 L399.26,490.9 L401.07,492.44 L402.87,493.91 L404.68,495.3 L406.49,496.63 L408.29,497.88 L410.1,499.06 L411.91,500.17 L413.71,501.21 L415.52,502.18 L417.33,503.09 L419.14,503.94 L420.94,504.72 L422.75,505.46 L424.56,506.13 L426.36,506.76 L428.17,507.34 L429.98,507.88 L431.78,508.38 L433.59,508.83 L435.4,509.25 L437.21,509.64 L439.01,509.99 L440.82,510.32" fill="none" stroke="#08c408" stroke-width="1.25" stroke-linejoin="round"/>
<circle cx="332.4" cy="439.07" r="1.95" fill="#fff" fill-opacity="0.55" stroke="#ff0c7c" stroke-width="1.35"/>
<path d="M350.47,443.32 V448.15 M348.87,443.32 H352.07 M348.87,448.15 H352.07" stroke="#ff0c7c" stroke-width="1.35" fill="none"/>
<circle cx="350.47" cy="445.73" r="1.95" fill="#fff" fill-opacity="0.55" stroke="#ff0c7c" stroke-width="1.35"/>
<circle cx="368.54" cy="445.73" r="1.95" fill="#fff" fill-opacity="0.55" stroke="#ff0c7c" stroke-width="1.35"/>
<circle cx="386.61" cy="454.07" r="1.95" fill="#fff" fill-opacity="0.55" stroke="#ff0c7c" stroke-width="1.35"/>
<path d="M404.68,462.05 V466.08 M403.08,462.05 H406.28 M403.08,466.08 H406.28" stroke="#ff0c7c" stroke-width="1.35" fill="none"/>
<circle cx="404.68" cy="464.07" r="1.95" fill="#fff" fill-opacity="0.55" stroke="#ff0c7c" stroke-width="1.35"/>
<circle cx="422.75" cy="479.07" r="1.95" fill="#fff" fill-opacity="0.55" stroke="#ff0c7c" stroke-width="1.35"/>
<path d="M440.82,489.88 V494.92 M439.22,489.88 H442.42 M439.22,494.92 H442.42" stroke="#ff0c7c" stroke-width="1.35" fill="none"/>
<circle cx="440.82" cy="492.4" r="1.95" fill="#fff" fill-opacity="0.55" stroke="#ff0c7c" stroke-width="1.35"/>
<path d="M332.4,436.59 V441.54 M330.8,436.59 H334 M330.8,441.54 H334" stroke="#dc14dc" stroke-width="1.35" fill="none"/>
<circle cx="332.4" cy="439.07" r="1.95" fill="#fff" fill-opacity="0.55" stroke="#dc14dc" stroke-width="1.35"/>
<circle cx="350.47" cy="446.57" r="1.95" fill="#fff" fill-opacity="0.55" stroke="#dc14dc" stroke-width="1.35"/>
<circle cx="368.54" cy="449.9" r="1.95" fill="#fff" fill-opacity="0.55" stroke="#dc14dc" stroke-width="1.35"/>
<circle cx="386.61" cy="457.4" r="1.95" fill="#fff" fill-opacity="0.55" stroke="#dc14dc" stroke-width="1.35"/>
<circle cx="404.68" cy="467.4" r="1.95" fill="#fff" fill-opacity="0.55" stroke="#dc14dc" stroke-width="1.35"/>
<path d="M422.75,477.4 V484.07 M421.15,477.4 H424.35 M421.15,484.07 H424.35" stroke="#dc14dc" stroke-width="1.35" fill="none"/>
<circle cx="422.75" cy="480.73" r="1.95" fill="#fff" fill-opacity="0.55" stroke="#dc14dc" stroke-width="1.35"/>
<path d="M440.82,492.37 V497.43 M439.22,492.37 H442.42 M439.22,497.43 H442.42" stroke="#dc14dc" stroke-width="1.35" fill="none"/>
<circle cx="440.82" cy="494.9" r="1.95" fill="#fff" fill-opacity="0.55" stroke="#dc14dc" stroke-width="1.35"/>
<path d="M332.4,437.39 V442.41 M330.8,437.39 H334 M330.8,442.41 H334" stroke="#08c408" stroke-width="1.35" fill="none"/>
<circle cx="332.4" cy="439.9" r="1.95" fill="#fff" fill-opacity="0.55" stroke="#08c408" stroke-width="1.35"/>
<circle cx="350.47" cy="447.4" r="1.95" fill="#fff" fill-opacity="0.55" stroke="#08c408" stroke-width="1.35"/>
<path d="M368.54,459.07 V470.73 M366.94,459.07 H370.14 M366.94,470.73 H370.14" stroke="#08c408" stroke-width="1.35" fill="none"/>
<circle cx="368.54" cy="464.9" r="1.95" fill="#fff" fill-opacity="0.55" stroke="#08c408" stroke-width="1.35"/>
<circle cx="386.61" cy="479.07" r="1.95" fill="#fff" fill-opacity="0.55" stroke="#08c408" stroke-width="1.35"/>
<path d="M404.68,486.47 V491.66 M403.08,486.47 H406.28 M403.08,491.66 H406.28" stroke="#08c408" stroke-width="1.35" fill="none"/>
<circle cx="404.68" cy="489.07" r="1.95" fill="#fff" fill-opacity="0.55" stroke="#08c408" stroke-width="1.35"/>
<path d="M422.75,506.84 V511.29 M421.15,506.84 H424.35 M421.15,511.29 H424.35" stroke="#08c408" stroke-width="1.35" fill="none"/>
<circle cx="422.75" cy="509.07" r="1.95" fill="#fff" fill-opacity="0.55" stroke="#08c408" stroke-width="1.35"/>
<circle cx="440.82" cy="516.23" r="1.95" fill="#fff" fill-opacity="0.55" stroke="#08c408" stroke-width="1.35"/>
<circle cx="332.4" cy="438.23" r="1.95" fill="#fff" fill-opacity="0.55" stroke="#0c7c9c" stroke-width="1.35"/>
<circle cx="350.47" cy="445.73" r="1.95" fill="#fff" fill-opacity="0.55" stroke="#0c7c9c" stroke-width="1.35"/>
<circle cx="368.54" cy="454.9" r="1.95" fill="#fff" fill-opacity="0.55" stroke="#0c7c9c" stroke-width="1.35"/>
<circle cx="386.61" cy="479.07" r="1.95" fill="#fff" fill-opacity="0.55" stroke="#0c7c9c" stroke-width="1.35"/>
<circle cx="404.68" cy="492.4" r="1.95" fill="#fff" fill-opacity="0.55" stroke="#0c7c9c" stroke-width="1.35"/>
<circle cx="422.75" cy="510.73" r="1.95" fill="#fff" fill-opacity="0.55" stroke="#0c7c9c" stroke-width="1.35"/>
<path d="M440.82,511.93 V516.21 M439.22,511.93 H442.42 M439.22,516.21 H442.42" stroke="#0c7c9c" stroke-width="1.35" fill="none"/>
<circle cx="440.82" cy="514.07" r="1.95" fill="#fff" fill-opacity="0.55" stroke="#0c7c9c" stroke-width="1.35"/>
<path d="M332.4,435.83 V440.64 M330.8,435.83 H334 M330.8,440.64 H334" stroke="#111111" stroke-width="1.35" fill="none"/>
<circle cx="332.4" cy="438.23" r="1.95" fill="#fff" fill-opacity="0.55" stroke="#111111" stroke-width="1.35"/>
<path d="M350.47,444.07 V454.07 M348.87,444.07 H352.07 M348.87,454.07 H352.07" stroke="#111111" stroke-width="1.35" fill="none"/>
<circle cx="350.47" cy="449.07" r="1.95" fill="#fff" fill-opacity="0.55" stroke="#111111" stroke-width="1.35"/>
<path d="M368.54,446.57 V451.57 M366.94,446.57 H370.14 M366.94,451.57 H370.14" stroke="#111111" stroke-width="1.35" fill="none"/>
<circle cx="368.54" cy="449.07" r="1.95" fill="#fff" fill-opacity="0.55" stroke="#111111" stroke-width="1.35"/>
<circle cx="386.61" cy="467.4" r="1.95" fill="#fff" fill-opacity="0.55" stroke="#111111" stroke-width="1.35"/>
<circle cx="404.68" cy="477.4" r="1.95" fill="#fff" fill-opacity="0.55" stroke="#111111" stroke-width="1.35"/>
<circle cx="422.75" cy="494.57" r="1.95" fill="#fff" fill-opacity="0.55" stroke="#111111" stroke-width="1.35"/>
<circle cx="440.82" cy="511.65" r="1.95" fill="#fff" fill-opacity="0.55" stroke="#111111" stroke-width="1.35"/>
<path d="M332.4,436.53 V441.61 M330.8,436.53 H334 M330.8,441.61 H334" stroke="#f8aa6c" stroke-width="0.9" fill="none"/>
<circle cx="332.4" cy="439.07" r="1.95" fill="#fff" fill-opacity="0.55" stroke="#f8aa6c" stroke-width="0.9"/>
<path d="M350.47,459.55 V464.09 M348.87,459.55 H352.07 M348.87,464.09 H352.07" stroke="#f8aa6c" stroke-width="0.9" fill="none"/>
<circle cx="350.47" cy="461.82" r="1.95" fill="#fff" fill-opacity="0.55" stroke="#f8aa6c" stroke-width="0.9"/>
<path d="M368.54,485.73 V492.4 M366.94,485.73 H370.14 M366.94,492.4 H370.14" stroke="#f8aa6c" stroke-width="0.9" fill="none"/>
<circle cx="368.54" cy="489.07" r="1.95" fill="#fff" fill-opacity="0.55" stroke="#f8aa6c" stroke-width="0.9"/>
<circle cx="386.61" cy="502.4" r="1.95" fill="#fff" fill-opacity="0.55" stroke="#f8aa6c" stroke-width="0.9"/>
<circle cx="404.68" cy="516.23" r="1.95" fill="#fff" fill-opacity="0.55" stroke="#f8aa6c" stroke-width="0.9"/>
<path d="M422.75,516.66 V520.98 M421.15,516.66 H424.35 M421.15,520.98 H424.35" stroke="#f8aa6c" stroke-width="0.9" fill="none"/>
<circle cx="422.75" cy="518.82" r="1.95" fill="#fff" fill-opacity="0.55" stroke="#f8aa6c" stroke-width="0.9"/>
<circle cx="440.82" cy="518.65" r="1.95" fill="#fff" fill-opacity="0.55" stroke="#f8aa6c" stroke-width="0.9"/>
<line x1="314.5" y1="422.4" x2="459" y2="422.4" stroke="#111" stroke-width="1.05" />
<line x1="459" y1="422.4" x2="459" y2="522.4" stroke="#111" stroke-width="1.4" />
<line x1="314.5" y1="522.4" x2="459.7" y2="522.4" stroke="#111" stroke-width="1.05" />
<line x1="314.5" y1="421.9" x2="314.5" y2="522.9" stroke="#222" stroke-width="1.05" />
<line x1="310.5" y1="522.4" x2="314.5" y2="522.4" stroke="#222" stroke-width="1.1" />
<text x="308" y="525.9" font-size="7.0" text-anchor="end" fill="#151515" font-weight="normal" stroke="#151515" stroke-width="0.15" >0</text>
<line x1="310.5" y1="505.73" x2="314.5" y2="505.73" stroke="#222" stroke-width="1.1" />
<text x="308" y="508.99" font-size="7.0" text-anchor="end" fill="#151515" font-weight="normal" stroke="#151515" stroke-width="0.15" >20</text>
<line x1="310.5" y1="489.07" x2="314.5" y2="489.07" stroke="#222" stroke-width="1.1" />
<text x="308" y="492.08" font-size="7.0" text-anchor="end" fill="#151515" font-weight="normal" stroke="#151515" stroke-width="0.15" >40</text>
<line x1="310.5" y1="472.4" x2="314.5" y2="472.4" stroke="#222" stroke-width="1.1" />
<text x="308" y="475.18" font-size="7.0" text-anchor="end" fill="#151515" font-weight="normal" stroke="#151515" stroke-width="0.15" >60</text>
<line x1="310.5" y1="455.73" x2="314.5" y2="455.73" stroke="#222" stroke-width="1.1" />
<text x="308" y="458.27" font-size="7.0" text-anchor="end" fill="#151515" font-weight="normal" stroke="#151515" stroke-width="0.15" >80</text>
<line x1="310.5" y1="439.07" x2="314.5" y2="439.07" stroke="#222" stroke-width="1.1" />
<text x="308" y="441.36" font-size="7.0" text-anchor="end" fill="#151515" font-weight="normal" stroke="#151515" stroke-width="0.15" >100</text>
<line x1="310.5" y1="422.4" x2="314.5" y2="422.4" stroke="#222" stroke-width="1.1" />
<text x="308" y="424.45" font-size="7.0" text-anchor="end" fill="#151515" font-weight="normal" stroke="#151515" stroke-width="0.15" >120</text>
<line x1="332.4" y1="522.4" x2="332.4" y2="526.4" stroke="#222" stroke-width="1.2" />
<text x="331.4" y="535" font-size="7.0" text-anchor="middle" fill="#151515" font-weight="normal" stroke="#151515" stroke-width="0.15" >0.0</text>
<line x1="350.47" y1="522.4" x2="350.47" y2="526.4" stroke="#222" stroke-width="1.2" />
<text x="350.67" y="535" font-size="7.0" text-anchor="middle" fill="#151515" font-weight="normal" stroke="#151515" stroke-width="0.15" >0.25</text>
<line x1="368.54" y1="522.4" x2="368.54" y2="526.4" stroke="#222" stroke-width="1.2" />
<text x="368.14" y="535" font-size="7.0" text-anchor="middle" fill="#151515" font-weight="normal" stroke="#151515" stroke-width="0.15" >0.5</text>
<line x1="386.61" y1="522.4" x2="386.61" y2="526.4" stroke="#222" stroke-width="1.2" />
<text x="387.31" y="535" font-size="7.0" text-anchor="middle" fill="#151515" font-weight="normal" stroke="#151515" stroke-width="0.15" >1.0</text>
<line x1="404.68" y1="522.4" x2="404.68" y2="526.4" stroke="#222" stroke-width="1.2" />
<text x="405.28" y="535" font-size="7.0" text-anchor="middle" fill="#151515" font-weight="normal" stroke="#151515" stroke-width="0.15" >2.0</text>
<line x1="422.75" y1="522.4" x2="422.75" y2="526.4" stroke="#222" stroke-width="1.2" />
<text x="424.85" y="535" font-size="7.0" text-anchor="middle" fill="#151515" font-weight="normal" stroke="#151515" stroke-width="0.15" >4.0</text>
<line x1="440.82" y1="522.4" x2="440.82" y2="526.4" stroke="#222" stroke-width="1.2" />
<text x="443.22" y="535" font-size="7.0" text-anchor="middle" fill="#151515" font-weight="normal" stroke="#151515" stroke-width="0.15" >8.0</text>
<text x="290.3" y="471.6" font-size="7.4" text-anchor="middle" fill="#151515" font-weight="normal" stroke="#151515" stroke-width="0.15" transform="rotate(-90 290.3 471.6)" >Proliferation rate (%)</text>
<text x="368.3" y="545" font-size="7.1" text-anchor="start" fill="#151515" font-weight="normal" stroke="#151515" stroke-width="0.15" >LCL-161 (&#956;M)</text>
<text x="515.1" y="418.5" font-size="7.1" text-anchor="start" fill="#151515" font-weight="normal" stroke="#151515" stroke-width="0.15" >IC50 (&#956;M)</text>
<line x1="468.5" y1="427.3" x2="478.5" y2="427.3" stroke="#f8aa6c" stroke-width="1.1" />
<circle cx="473.5" cy="427.3" r="1.9" fill="#fff" stroke="#f8aa6c" stroke-width="1.5"/>
<text x="480.9" y="429.8" font-size="7.1" text-anchor="start" fill="#ff2020" font-weight="normal" stroke="#ff2020" stroke-width="0.15" >SNU475</text>
<text x="531.2" y="429.2" font-size="7.1" text-anchor="middle" fill="#ff2020" font-weight="normal" stroke="#ff2020" stroke-width="0.15" >0.43</text>
<line x1="468.5" y1="440.1" x2="478.5" y2="440.1" stroke="#08c408" stroke-width="1.1" />
<circle cx="473.5" cy="440.1" r="1.9" fill="#fff" stroke="#08c408" stroke-width="1.5"/>
<text x="480.9" y="442.6" font-size="7.1" text-anchor="start" fill="#151515" font-weight="normal" stroke="#151515" stroke-width="0.15" >HepG2</text>
<text x="531.2" y="442" font-size="7.1" text-anchor="middle" fill="#151515" font-weight="normal" stroke="#151515" stroke-width="0.15" >1.18</text>
<line x1="468.5" y1="451.3" x2="478.5" y2="451.3" stroke="#0c7c9c" stroke-width="1.1" />
<circle cx="473.5" cy="451.3" r="1.9" fill="#fff" stroke="#0c7c9c" stroke-width="1.5"/>
<text x="480.9" y="453.8" font-size="7.1" text-anchor="start" fill="#151515" font-weight="normal" stroke="#151515" stroke-width="0.15" >Hep3B</text>
<text x="531.2" y="453.2" font-size="7.1" text-anchor="middle" fill="#151515" font-weight="normal" stroke="#151515" stroke-width="0.15" >1.17</text>
<line x1="468.5" y1="463" x2="478.5" y2="463" stroke="#111111" stroke-width="1.1" />
<circle cx="473.5" cy="463" r="1.9" fill="#fff" stroke="#111111" stroke-width="1.5"/>
<text x="480.9" y="465.5" font-size="7.1" text-anchor="start" fill="#151515" font-weight="normal" stroke="#151515" stroke-width="0.15" >Huh7</text>
<text x="531.2" y="464.9" font-size="7.1" text-anchor="middle" fill="#151515" font-weight="normal" stroke="#151515" stroke-width="0.15" >2.00</text>
<line x1="468.5" y1="474.6" x2="478.5" y2="474.6" stroke="#dc14dc" stroke-width="1.1" />
<circle cx="473.5" cy="474.6" r="1.9" fill="#fff" stroke="#dc14dc" stroke-width="1.5"/>
<text x="480.9" y="477.1" font-size="7.1" text-anchor="start" fill="#151515" font-weight="normal" stroke="#151515" stroke-width="0.15" >Huh1</text>
<text x="531.2" y="476.5" font-size="7.1" text-anchor="middle" fill="#151515" font-weight="normal" stroke="#151515" stroke-width="0.15" >4.32</text>
<line x1="468.5" y1="485.8" x2="478.5" y2="485.8" stroke="#ff0c7c" stroke-width="1.1" />
<circle cx="473.5" cy="485.8" r="1.9" fill="#fff" stroke="#ff0c7c" stroke-width="1.5"/>
<text x="480.9" y="488.3" font-size="7.1" text-anchor="start" fill="#151515" font-weight="normal" stroke="#151515" stroke-width="0.15" >SK-Hep1</text>
<text x="531.2" y="487.7" font-size="7.1" text-anchor="middle" fill="#151515" font-weight="normal" stroke="#151515" stroke-width="0.15" >4.21</text>
<text x="4.9" y="8.7" font-size="7.4" text-anchor="start" fill="#111" font-weight="bold" >A</text>
<text x="354.2" y="8.9" font-size="7.4" text-anchor="start" fill="#111" font-weight="bold" >B</text>
<text x="6" y="142.6" font-size="7.4" text-anchor="start" fill="#111" font-weight="bold" >C</text>
<text x="181.4" y="143.6" font-size="7.4" text-anchor="start" fill="#111" font-weight="bold" >D</text>
<text x="354.5" y="143.2" font-size="7.4" text-anchor="start" fill="#111" font-weight="bold" >E</text>
<text x="4.8" y="270.6" font-size="7.4" text-anchor="start" fill="#111" font-weight="bold" >F</text>
<text x="270.5" y="275.6" font-size="7.4" text-anchor="start" fill="#111" font-weight="bold" >G</text>
<text x="3" y="416.6" font-size="7.4" text-anchor="start" fill="#111" font-weight="bold" >H</text>
<text x="283.6" y="413.8" font-size="7.4" text-anchor="start" fill="#111" font-weight="bold" >I</text>
</svg>
</body></html>
